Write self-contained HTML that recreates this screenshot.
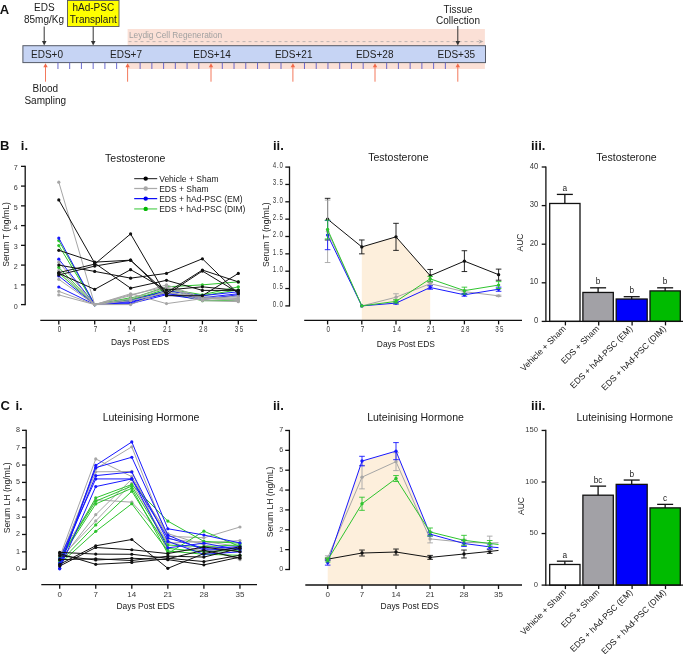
<!DOCTYPE html>
<html><head><meta charset="utf-8"><style>
html,body{margin:0;padding:0;background:#fff;}
body{width:685px;height:654px;overflow:hidden;}
svg{display:block;will-change:transform;}
</style></head><body>
<svg width="685" height="654" viewBox="0 0 685 654">
<rect width="685" height="654" fill="#fff"/>
<text x="-0.3" y="13.6" font-size="13" text-anchor="start" fill="#111" font-weight="bold" font-family='"Liberation Sans", sans-serif' >A</text>
<text x="44.3" y="10.8" font-size="10" text-anchor="middle" fill="#1a1a1a" font-weight="normal" font-family='"Liberation Sans", sans-serif' >EDS</text>
<text x="44.0" y="22.7" font-size="10" text-anchor="middle" fill="#1a1a1a" font-weight="normal" font-family='"Liberation Sans", sans-serif' >85mg/Kg</text>
<line x1="44.2" y1="26.5" x2="44.2" y2="41.3" stroke="#333" stroke-width="1.0" />
<path d="M41.900000000000006,41.0 L46.5,41.0 L44.2,45.5 Z" fill="#333"/>
<rect x="67.5" y="0.5" width="51.5" height="26" fill="#ffff00" stroke="#555" stroke-width="0.9" />
<text x="93.3" y="10.9" font-size="10" text-anchor="middle" fill="#1a1a1a" font-weight="normal" font-family='"Liberation Sans", sans-serif' >hAd-PSC</text>
<text x="93.3" y="22.9" font-size="10" text-anchor="middle" fill="#1a1a1a" font-weight="normal" font-family='"Liberation Sans", sans-serif' >Transplant</text>
<line x1="93.2" y1="26.5" x2="93.2" y2="41.3" stroke="#333" stroke-width="1.0" />
<path d="M90.9,41.0 L95.5,41.0 L93.2,45.5 Z" fill="#333"/>
<rect x="127.6" y="29" width="357.3" height="40" fill="#fbe0d6" stroke="none" stroke-width="1" />
<text x="129.0" y="38.2" font-size="8.3" text-anchor="start" fill="#a0a0a0" font-weight="normal" font-family='"Liberation Sans", sans-serif' >Leydig Cell Regeneration</text>
<line x1="128.5" y1="41.6" x2="479" y2="41.6" stroke="#b8b0ae" stroke-width="0.9" stroke-dasharray="3,3"/>
<path d="M478.5,39.4 L483.5,41.6 L478.5,43.8 L480,41.6 Z" fill="#b0a8a6"/>
<rect x="22.9" y="45.7" width="462.6" height="16.9" fill="#c6d4f4" stroke="#555a66" stroke-width="1.0" />
<text x="47" y="57.8" font-size="10" text-anchor="middle" fill="#222" font-weight="normal" font-family='"Liberation Sans", sans-serif' >EDS+0</text>
<text x="126" y="57.8" font-size="10" text-anchor="middle" fill="#222" font-weight="normal" font-family='"Liberation Sans", sans-serif' >EDS+7</text>
<text x="212" y="57.8" font-size="10" text-anchor="middle" fill="#222" font-weight="normal" font-family='"Liberation Sans", sans-serif' >EDS+14</text>
<text x="293.7" y="57.8" font-size="10" text-anchor="middle" fill="#222" font-weight="normal" font-family='"Liberation Sans", sans-serif' >EDS+21</text>
<text x="374.7" y="57.8" font-size="10" text-anchor="middle" fill="#222" font-weight="normal" font-family='"Liberation Sans", sans-serif' >EDS+28</text>
<text x="456.3" y="57.8" font-size="10" text-anchor="middle" fill="#222" font-weight="normal" font-family='"Liberation Sans", sans-serif' >EDS+35</text>
<line x1="57.940000000000005" y1="62.6" x2="57.940000000000005" y2="69" stroke="#5a5ac8" stroke-width="0.9" />
<line x1="69.68" y1="62.6" x2="69.68" y2="69" stroke="#5a5ac8" stroke-width="0.9" />
<line x1="81.42" y1="62.6" x2="81.42" y2="69" stroke="#5a5ac8" stroke-width="0.9" />
<line x1="93.16" y1="62.6" x2="93.16" y2="69" stroke="#5a5ac8" stroke-width="0.9" />
<line x1="104.9" y1="62.6" x2="104.9" y2="69" stroke="#5a5ac8" stroke-width="0.9" />
<line x1="116.64" y1="62.6" x2="116.64" y2="69" stroke="#5a5ac8" stroke-width="0.9" />
<line x1="140.12" y1="62.6" x2="140.12" y2="69" stroke="#5a5ac8" stroke-width="0.9" />
<line x1="151.86" y1="62.6" x2="151.86" y2="69" stroke="#5a5ac8" stroke-width="0.9" />
<line x1="163.60000000000002" y1="62.6" x2="163.60000000000002" y2="69" stroke="#5a5ac8" stroke-width="0.9" />
<line x1="175.34000000000003" y1="62.6" x2="175.34000000000003" y2="69" stroke="#5a5ac8" stroke-width="0.9" />
<line x1="187.07999999999998" y1="62.6" x2="187.07999999999998" y2="69" stroke="#5a5ac8" stroke-width="0.9" />
<line x1="198.82" y1="62.6" x2="198.82" y2="69" stroke="#5a5ac8" stroke-width="0.9" />
<line x1="222.3" y1="62.6" x2="222.3" y2="69" stroke="#5a5ac8" stroke-width="0.9" />
<line x1="234.04000000000002" y1="62.6" x2="234.04000000000002" y2="69" stroke="#5a5ac8" stroke-width="0.9" />
<line x1="245.78000000000003" y1="62.6" x2="245.78000000000003" y2="69" stroke="#5a5ac8" stroke-width="0.9" />
<line x1="257.52" y1="62.6" x2="257.52" y2="69" stroke="#5a5ac8" stroke-width="0.9" />
<line x1="269.26" y1="62.6" x2="269.26" y2="69" stroke="#5a5ac8" stroke-width="0.9" />
<line x1="281.0" y1="62.6" x2="281.0" y2="69" stroke="#5a5ac8" stroke-width="0.9" />
<line x1="304.48" y1="62.6" x2="304.48" y2="69" stroke="#5a5ac8" stroke-width="0.9" />
<line x1="316.21999999999997" y1="62.6" x2="316.21999999999997" y2="69" stroke="#5a5ac8" stroke-width="0.9" />
<line x1="327.96" y1="62.6" x2="327.96" y2="69" stroke="#5a5ac8" stroke-width="0.9" />
<line x1="339.7" y1="62.6" x2="339.7" y2="69" stroke="#5a5ac8" stroke-width="0.9" />
<line x1="351.44" y1="62.6" x2="351.44" y2="69" stroke="#5a5ac8" stroke-width="0.9" />
<line x1="363.18" y1="62.6" x2="363.18" y2="69" stroke="#5a5ac8" stroke-width="0.9" />
<line x1="386.65999999999997" y1="62.6" x2="386.65999999999997" y2="69" stroke="#5a5ac8" stroke-width="0.9" />
<line x1="398.4" y1="62.6" x2="398.4" y2="69" stroke="#5a5ac8" stroke-width="0.9" />
<line x1="410.14" y1="62.6" x2="410.14" y2="69" stroke="#5a5ac8" stroke-width="0.9" />
<line x1="421.88" y1="62.6" x2="421.88" y2="69" stroke="#5a5ac8" stroke-width="0.9" />
<line x1="433.62" y1="62.6" x2="433.62" y2="69" stroke="#5a5ac8" stroke-width="0.9" />
<line x1="445.36" y1="62.6" x2="445.36" y2="69" stroke="#5a5ac8" stroke-width="0.9" />
<line x1="45.5" y1="81.7" x2="45.5" y2="66.8" stroke="#f26a4a" stroke-width="0.9" />
<path d="M43.3,67.3 L47.7,67.3 L45.5,63.2 Z" fill="#f26a4a"/>
<line x1="127.6" y1="81.7" x2="127.6" y2="66.8" stroke="#f26a4a" stroke-width="0.9" />
<path d="M125.39999999999999,67.3 L129.79999999999998,67.3 L127.6,63.2 Z" fill="#f26a4a"/>
<line x1="211" y1="81.7" x2="211" y2="66.8" stroke="#f26a4a" stroke-width="0.9" />
<path d="M208.8,67.3 L213.2,67.3 L211,63.2 Z" fill="#f26a4a"/>
<line x1="292.9" y1="81.7" x2="292.9" y2="66.8" stroke="#f26a4a" stroke-width="0.9" />
<path d="M290.7,67.3 L295.09999999999997,67.3 L292.9,63.2 Z" fill="#f26a4a"/>
<line x1="375" y1="81.7" x2="375" y2="66.8" stroke="#f26a4a" stroke-width="0.9" />
<path d="M372.8,67.3 L377.2,67.3 L375,63.2 Z" fill="#f26a4a"/>
<line x1="457.8" y1="81.7" x2="457.8" y2="66.8" stroke="#f26a4a" stroke-width="0.9" />
<path d="M455.6,67.3 L460.0,67.3 L457.8,63.2 Z" fill="#f26a4a"/>
<text x="45.3" y="91.9" font-size="10" text-anchor="middle" fill="#1a1a1a" font-weight="normal" font-family='"Liberation Sans", sans-serif' >Blood</text>
<text x="45.3" y="103.5" font-size="10" text-anchor="middle" fill="#1a1a1a" font-weight="normal" font-family='"Liberation Sans", sans-serif' >Sampling</text>
<text x="458" y="12.7" font-size="10" text-anchor="middle" fill="#1a1a1a" font-weight="normal" font-family='"Liberation Sans", sans-serif' >Tissue</text>
<text x="458" y="24.2" font-size="10" text-anchor="middle" fill="#1a1a1a" font-weight="normal" font-family='"Liberation Sans", sans-serif' >Collection</text>
<line x1="457.8" y1="26" x2="457.8" y2="41.3" stroke="#333" stroke-width="1.0" />
<path d="M455.5,41.0 L460.1,41.0 L457.8,45.5 Z" fill="#333"/>
<text x="0.0" y="150.2" font-size="13" text-anchor="start" fill="#111" font-weight="bold" font-family='"Liberation Sans", sans-serif' >B</text>
<text x="20.8" y="150.2" font-size="13" text-anchor="start" fill="#111" font-weight="bold" font-family='"Liberation Sans", sans-serif' >i.</text>
<text x="273" y="149.5" font-size="13" text-anchor="start" fill="#111" font-weight="bold" font-family='"Liberation Sans", sans-serif' >ii.</text>
<text x="531" y="149.5" font-size="13" text-anchor="start" fill="#111" font-weight="bold" font-family='"Liberation Sans", sans-serif' >iii.</text>
<text x="0.5" y="410.2" font-size="13" text-anchor="start" fill="#111" font-weight="bold" font-family='"Liberation Sans", sans-serif' >C</text>
<text x="15.5" y="410.2" font-size="13" text-anchor="start" fill="#111" font-weight="bold" font-family='"Liberation Sans", sans-serif' >i.</text>
<text x="273" y="410" font-size="13" text-anchor="start" fill="#111" font-weight="bold" font-family='"Liberation Sans", sans-serif' >ii.</text>
<text x="531" y="410" font-size="13" text-anchor="start" fill="#111" font-weight="bold" font-family='"Liberation Sans", sans-serif' >iii.</text>
<text x="135.3" y="161.9" font-size="10.55" text-anchor="middle" fill="#1a1a1a" font-weight="normal" font-family='"Liberation Sans", sans-serif' >Testosterone</text>
<line x1="25.2" y1="165.75000000000003" x2="25.2" y2="305.20000000000005" stroke="#111" stroke-width="1.3" />
<line x1="21.0" y1="304.6" x2="25.2" y2="304.6" stroke="#111" stroke-width="1.3" />
<text transform="translate(17.80,308.50) scale(0.9,1)" font-size="8.0" text-anchor="end" fill="#383838" font-family='"Liberation Sans", sans-serif' letter-spacing="0.0">0</text>
<line x1="21.0" y1="284.85" x2="25.2" y2="284.85" stroke="#111" stroke-width="1.3" />
<text transform="translate(17.80,288.75) scale(0.9,1)" font-size="8.0" text-anchor="end" fill="#383838" font-family='"Liberation Sans", sans-serif' letter-spacing="0.0">1</text>
<line x1="21.0" y1="265.1" x2="25.2" y2="265.1" stroke="#111" stroke-width="1.3" />
<text transform="translate(17.80,269.00) scale(0.9,1)" font-size="8.0" text-anchor="end" fill="#383838" font-family='"Liberation Sans", sans-serif' letter-spacing="0.0">2</text>
<line x1="21.0" y1="245.35000000000002" x2="25.2" y2="245.35000000000002" stroke="#111" stroke-width="1.3" />
<text transform="translate(17.80,249.25) scale(0.9,1)" font-size="8.0" text-anchor="end" fill="#383838" font-family='"Liberation Sans", sans-serif' letter-spacing="0.0">3</text>
<line x1="21.0" y1="225.60000000000002" x2="25.2" y2="225.60000000000002" stroke="#111" stroke-width="1.3" />
<text transform="translate(17.80,229.50) scale(0.9,1)" font-size="8.0" text-anchor="end" fill="#383838" font-family='"Liberation Sans", sans-serif' letter-spacing="0.0">4</text>
<line x1="21.0" y1="205.85000000000002" x2="25.2" y2="205.85000000000002" stroke="#111" stroke-width="1.3" />
<text transform="translate(17.80,209.75) scale(0.9,1)" font-size="8.0" text-anchor="end" fill="#383838" font-family='"Liberation Sans", sans-serif' letter-spacing="0.0">5</text>
<line x1="21.0" y1="186.10000000000002" x2="25.2" y2="186.10000000000002" stroke="#111" stroke-width="1.3" />
<text transform="translate(17.80,190.00) scale(0.9,1)" font-size="8.0" text-anchor="end" fill="#383838" font-family='"Liberation Sans", sans-serif' letter-spacing="0.0">6</text>
<line x1="21.0" y1="166.35000000000002" x2="25.2" y2="166.35000000000002" stroke="#111" stroke-width="1.3" />
<text transform="translate(17.80,170.25) scale(0.9,1)" font-size="8.0" text-anchor="end" fill="#383838" font-family='"Liberation Sans", sans-serif' letter-spacing="0.0">7</text>
<line x1="40.3" y1="320.4" x2="257" y2="320.4" stroke="#111" stroke-width="1.3" />
<line x1="58.8" y1="320.4" x2="58.8" y2="324.4" stroke="#111" stroke-width="1.3" />
<text transform="translate(60.30,332.00) scale(0.74,1)" font-size="8.5" text-anchor="middle" fill="#383838" font-family='"Liberation Sans", sans-serif' letter-spacing="2.0">0</text>
<line x1="94.69999999999999" y1="320.4" x2="94.69999999999999" y2="324.4" stroke="#111" stroke-width="1.3" />
<text transform="translate(96.20,332.00) scale(0.74,1)" font-size="8.5" text-anchor="middle" fill="#383838" font-family='"Liberation Sans", sans-serif' letter-spacing="2.0">7</text>
<line x1="130.6" y1="320.4" x2="130.6" y2="324.4" stroke="#111" stroke-width="1.3" />
<text transform="translate(132.10,332.00) scale(0.74,1)" font-size="8.5" text-anchor="middle" fill="#383838" font-family='"Liberation Sans", sans-serif' letter-spacing="2.0">14</text>
<line x1="166.5" y1="320.4" x2="166.5" y2="324.4" stroke="#111" stroke-width="1.3" />
<text transform="translate(168.00,332.00) scale(0.74,1)" font-size="8.5" text-anchor="middle" fill="#383838" font-family='"Liberation Sans", sans-serif' letter-spacing="2.0">21</text>
<line x1="202.39999999999998" y1="320.4" x2="202.39999999999998" y2="324.4" stroke="#111" stroke-width="1.3" />
<text transform="translate(203.90,332.00) scale(0.74,1)" font-size="8.5" text-anchor="middle" fill="#383838" font-family='"Liberation Sans", sans-serif' letter-spacing="2.0">28</text>
<line x1="238.3" y1="320.4" x2="238.3" y2="324.4" stroke="#111" stroke-width="1.3" />
<text transform="translate(239.80,332.00) scale(0.74,1)" font-size="8.5" text-anchor="middle" fill="#383838" font-family='"Liberation Sans", sans-serif' letter-spacing="2.0">35</text>
<text x="140" y="344.6" font-size="8.45" text-anchor="middle" fill="#1a1a1a" font-weight="normal" font-family='"Liberation Sans", sans-serif' >Days Post EDS</text>
<text transform="translate(8.8,234.5) rotate(-90)" font-size="8.6" text-anchor="middle" fill="#1a1a1a" font-family='"Liberation Sans", sans-serif'>Serum T (ng/mL)</text>
<polyline points="58.80,240.61 94.70,304.60 130.60,298.68 166.50,286.83 202.40,284.85 238.30,281.89" fill="none" stroke="#2ec42e" stroke-width="1.0" stroke-linejoin="round"/>
<polyline points="58.80,245.55 94.70,304.60 130.60,300.65 166.50,288.80 202.40,294.73 238.30,286.83" fill="none" stroke="#2ec42e" stroke-width="1.0" stroke-linejoin="round"/>
<polyline points="58.80,267.47 94.70,304.60 130.60,299.66 166.50,290.78 202.40,295.71 238.30,289.79" fill="none" stroke="#2ec42e" stroke-width="1.0" stroke-linejoin="round"/>
<polyline points="58.80,273.00 94.70,304.60 130.60,297.69 166.50,292.75 202.40,300.65 238.30,300.65" fill="none" stroke="#2ec42e" stroke-width="1.0" stroke-linejoin="round"/>
<circle cx="58.80" cy="240.61" r="1.6" fill="#2ec42e"/>
<circle cx="94.70" cy="304.60" r="1.6" fill="#2ec42e"/>
<circle cx="130.60" cy="298.68" r="1.6" fill="#2ec42e"/>
<circle cx="166.50" cy="286.83" r="1.6" fill="#2ec42e"/>
<circle cx="202.40" cy="284.85" r="1.6" fill="#2ec42e"/>
<circle cx="238.30" cy="281.89" r="1.6" fill="#2ec42e"/>
<circle cx="58.80" cy="245.55" r="1.6" fill="#2ec42e"/>
<circle cx="94.70" cy="304.60" r="1.6" fill="#2ec42e"/>
<circle cx="130.60" cy="300.65" r="1.6" fill="#2ec42e"/>
<circle cx="166.50" cy="288.80" r="1.6" fill="#2ec42e"/>
<circle cx="202.40" cy="294.73" r="1.6" fill="#2ec42e"/>
<circle cx="238.30" cy="286.83" r="1.6" fill="#2ec42e"/>
<circle cx="58.80" cy="267.47" r="1.6" fill="#2ec42e"/>
<circle cx="94.70" cy="304.60" r="1.6" fill="#2ec42e"/>
<circle cx="130.60" cy="299.66" r="1.6" fill="#2ec42e"/>
<circle cx="166.50" cy="290.78" r="1.6" fill="#2ec42e"/>
<circle cx="202.40" cy="295.71" r="1.6" fill="#2ec42e"/>
<circle cx="238.30" cy="289.79" r="1.6" fill="#2ec42e"/>
<circle cx="58.80" cy="273.00" r="1.6" fill="#2ec42e"/>
<circle cx="94.70" cy="304.60" r="1.6" fill="#2ec42e"/>
<circle cx="130.60" cy="297.69" r="1.6" fill="#2ec42e"/>
<circle cx="166.50" cy="292.75" r="1.6" fill="#2ec42e"/>
<circle cx="202.40" cy="300.65" r="1.6" fill="#2ec42e"/>
<circle cx="238.30" cy="300.65" r="1.6" fill="#2ec42e"/>
<polyline points="58.80,238.04 94.70,304.60 130.60,300.65 166.50,290.78 202.40,295.71 238.30,291.76" fill="none" stroke="#1818ff" stroke-width="1.0" stroke-linejoin="round"/>
<polyline points="58.80,259.18 94.70,304.60 130.60,301.64 166.50,293.74 202.40,297.69 238.30,293.74" fill="none" stroke="#1818ff" stroke-width="1.0" stroke-linejoin="round"/>
<polyline points="58.80,275.96 94.70,304.60 130.60,302.62 166.50,292.75 202.40,298.68 238.30,295.71" fill="none" stroke="#1818ff" stroke-width="1.0" stroke-linejoin="round"/>
<polyline points="58.80,287.02 94.70,304.60 130.60,303.61 166.50,294.73 202.40,299.66 238.30,294.73" fill="none" stroke="#1818ff" stroke-width="1.0" stroke-linejoin="round"/>
<circle cx="58.80" cy="238.04" r="1.6" fill="#1818ff"/>
<circle cx="94.70" cy="304.60" r="1.6" fill="#1818ff"/>
<circle cx="130.60" cy="300.65" r="1.6" fill="#1818ff"/>
<circle cx="166.50" cy="290.78" r="1.6" fill="#1818ff"/>
<circle cx="202.40" cy="295.71" r="1.6" fill="#1818ff"/>
<circle cx="238.30" cy="291.76" r="1.6" fill="#1818ff"/>
<circle cx="58.80" cy="259.18" r="1.6" fill="#1818ff"/>
<circle cx="94.70" cy="304.60" r="1.6" fill="#1818ff"/>
<circle cx="130.60" cy="301.64" r="1.6" fill="#1818ff"/>
<circle cx="166.50" cy="293.74" r="1.6" fill="#1818ff"/>
<circle cx="202.40" cy="297.69" r="1.6" fill="#1818ff"/>
<circle cx="238.30" cy="293.74" r="1.6" fill="#1818ff"/>
<circle cx="58.80" cy="275.96" r="1.6" fill="#1818ff"/>
<circle cx="94.70" cy="304.60" r="1.6" fill="#1818ff"/>
<circle cx="130.60" cy="302.62" r="1.6" fill="#1818ff"/>
<circle cx="166.50" cy="292.75" r="1.6" fill="#1818ff"/>
<circle cx="202.40" cy="298.68" r="1.6" fill="#1818ff"/>
<circle cx="238.30" cy="295.71" r="1.6" fill="#1818ff"/>
<circle cx="58.80" cy="287.02" r="1.6" fill="#1818ff"/>
<circle cx="94.70" cy="304.60" r="1.6" fill="#1818ff"/>
<circle cx="130.60" cy="303.61" r="1.6" fill="#1818ff"/>
<circle cx="166.50" cy="294.73" r="1.6" fill="#1818ff"/>
<circle cx="202.40" cy="299.66" r="1.6" fill="#1818ff"/>
<circle cx="238.30" cy="294.73" r="1.6" fill="#1818ff"/>
<polyline points="58.80,182.15 94.70,304.60 130.60,293.74 166.50,303.61 202.40,298.68 238.30,299.66" fill="none" stroke="#a6a6a6" stroke-width="1.0" stroke-linejoin="round"/>
<polyline points="58.80,262.14 94.70,304.60 130.60,295.71 166.50,284.85 202.40,297.69 238.30,300.65" fill="none" stroke="#a6a6a6" stroke-width="1.0" stroke-linejoin="round"/>
<polyline points="58.80,270.43 94.70,304.60 130.60,298.68 166.50,287.81 202.40,299.66 238.30,295.71" fill="none" stroke="#a6a6a6" stroke-width="1.0" stroke-linejoin="round"/>
<polyline points="58.80,279.32 94.70,304.60 130.60,304.60 166.50,290.78 202.40,300.65 238.30,301.64" fill="none" stroke="#a6a6a6" stroke-width="1.0" stroke-linejoin="round"/>
<polyline points="58.80,291.37 94.70,304.60 130.60,300.65 166.50,292.75 202.40,296.70 238.30,298.68" fill="none" stroke="#a6a6a6" stroke-width="1.0" stroke-linejoin="round"/>
<polyline points="58.80,294.92 94.70,304.60 130.60,294.73 166.50,286.83 202.40,298.68 238.30,297.69" fill="none" stroke="#a6a6a6" stroke-width="1.0" stroke-linejoin="round"/>
<circle cx="58.80" cy="182.15" r="1.6" fill="#a6a6a6"/>
<circle cx="94.70" cy="304.60" r="1.6" fill="#a6a6a6"/>
<circle cx="130.60" cy="293.74" r="1.6" fill="#a6a6a6"/>
<circle cx="166.50" cy="303.61" r="1.6" fill="#a6a6a6"/>
<circle cx="202.40" cy="298.68" r="1.6" fill="#a6a6a6"/>
<circle cx="238.30" cy="299.66" r="1.6" fill="#a6a6a6"/>
<circle cx="58.80" cy="262.14" r="1.6" fill="#a6a6a6"/>
<circle cx="94.70" cy="304.60" r="1.6" fill="#a6a6a6"/>
<circle cx="130.60" cy="295.71" r="1.6" fill="#a6a6a6"/>
<circle cx="166.50" cy="284.85" r="1.6" fill="#a6a6a6"/>
<circle cx="202.40" cy="297.69" r="1.6" fill="#a6a6a6"/>
<circle cx="238.30" cy="300.65" r="1.6" fill="#a6a6a6"/>
<circle cx="58.80" cy="270.43" r="1.6" fill="#a6a6a6"/>
<circle cx="94.70" cy="304.60" r="1.6" fill="#a6a6a6"/>
<circle cx="130.60" cy="298.68" r="1.6" fill="#a6a6a6"/>
<circle cx="166.50" cy="287.81" r="1.6" fill="#a6a6a6"/>
<circle cx="202.40" cy="299.66" r="1.6" fill="#a6a6a6"/>
<circle cx="238.30" cy="295.71" r="1.6" fill="#a6a6a6"/>
<circle cx="58.80" cy="279.32" r="1.6" fill="#a6a6a6"/>
<circle cx="94.70" cy="304.60" r="1.6" fill="#a6a6a6"/>
<circle cx="130.60" cy="304.60" r="1.6" fill="#a6a6a6"/>
<circle cx="166.50" cy="290.78" r="1.6" fill="#a6a6a6"/>
<circle cx="202.40" cy="300.65" r="1.6" fill="#a6a6a6"/>
<circle cx="238.30" cy="301.64" r="1.6" fill="#a6a6a6"/>
<circle cx="58.80" cy="291.37" r="1.6" fill="#a6a6a6"/>
<circle cx="94.70" cy="304.60" r="1.6" fill="#a6a6a6"/>
<circle cx="130.60" cy="300.65" r="1.6" fill="#a6a6a6"/>
<circle cx="166.50" cy="292.75" r="1.6" fill="#a6a6a6"/>
<circle cx="202.40" cy="296.70" r="1.6" fill="#a6a6a6"/>
<circle cx="238.30" cy="298.68" r="1.6" fill="#a6a6a6"/>
<circle cx="58.80" cy="294.92" r="1.6" fill="#a6a6a6"/>
<circle cx="94.70" cy="304.60" r="1.6" fill="#a6a6a6"/>
<circle cx="130.60" cy="294.73" r="1.6" fill="#a6a6a6"/>
<circle cx="166.50" cy="286.83" r="1.6" fill="#a6a6a6"/>
<circle cx="202.40" cy="298.68" r="1.6" fill="#a6a6a6"/>
<circle cx="238.30" cy="297.69" r="1.6" fill="#a6a6a6"/>
<polyline points="58.80,199.93 94.70,263.12 130.60,288.21 166.50,280.31 202.40,290.38 238.30,290.38" fill="none" stroke="#111111" stroke-width="1.0" stroke-linejoin="round"/>
<polyline points="58.80,250.29 94.70,262.14 130.60,260.16 166.50,292.75 202.40,270.04 238.30,281.89" fill="none" stroke="#111111" stroke-width="1.0" stroke-linejoin="round"/>
<polyline points="58.80,274.98 94.70,266.09 130.60,260.16 166.50,294.73 202.40,271.03 238.30,292.75" fill="none" stroke="#111111" stroke-width="1.0" stroke-linejoin="round"/>
<polyline points="58.80,272.61 94.70,264.11 130.60,233.90 166.50,295.71 202.40,295.71 238.30,273.40" fill="none" stroke="#111111" stroke-width="1.0" stroke-linejoin="round"/>
<polyline points="58.80,265.10 94.70,271.42 130.60,278.14 166.50,273.40 202.40,258.78 238.30,293.74" fill="none" stroke="#111111" stroke-width="1.0" stroke-linejoin="round"/>
<polyline points="58.80,273.40 94.70,289.39 130.60,269.64 166.50,289.99 202.40,286.83 238.30,290.38" fill="none" stroke="#111111" stroke-width="1.0" stroke-linejoin="round"/>
<circle cx="58.80" cy="199.93" r="1.6" fill="#111111"/>
<circle cx="94.70" cy="263.12" r="1.6" fill="#111111"/>
<circle cx="130.60" cy="288.21" r="1.6" fill="#111111"/>
<circle cx="166.50" cy="280.31" r="1.6" fill="#111111"/>
<circle cx="202.40" cy="290.38" r="1.6" fill="#111111"/>
<circle cx="238.30" cy="290.38" r="1.6" fill="#111111"/>
<circle cx="58.80" cy="250.29" r="1.6" fill="#111111"/>
<circle cx="94.70" cy="262.14" r="1.6" fill="#111111"/>
<circle cx="130.60" cy="260.16" r="1.6" fill="#111111"/>
<circle cx="166.50" cy="292.75" r="1.6" fill="#111111"/>
<circle cx="202.40" cy="270.04" r="1.6" fill="#111111"/>
<circle cx="238.30" cy="281.89" r="1.6" fill="#111111"/>
<circle cx="58.80" cy="274.98" r="1.6" fill="#111111"/>
<circle cx="94.70" cy="266.09" r="1.6" fill="#111111"/>
<circle cx="130.60" cy="260.16" r="1.6" fill="#111111"/>
<circle cx="166.50" cy="294.73" r="1.6" fill="#111111"/>
<circle cx="202.40" cy="271.03" r="1.6" fill="#111111"/>
<circle cx="238.30" cy="292.75" r="1.6" fill="#111111"/>
<circle cx="58.80" cy="272.61" r="1.6" fill="#111111"/>
<circle cx="94.70" cy="264.11" r="1.6" fill="#111111"/>
<circle cx="130.60" cy="233.90" r="1.6" fill="#111111"/>
<circle cx="166.50" cy="295.71" r="1.6" fill="#111111"/>
<circle cx="202.40" cy="295.71" r="1.6" fill="#111111"/>
<circle cx="238.30" cy="273.40" r="1.6" fill="#111111"/>
<circle cx="58.80" cy="265.10" r="1.6" fill="#111111"/>
<circle cx="94.70" cy="271.42" r="1.6" fill="#111111"/>
<circle cx="130.60" cy="278.14" r="1.6" fill="#111111"/>
<circle cx="166.50" cy="273.40" r="1.6" fill="#111111"/>
<circle cx="202.40" cy="258.78" r="1.6" fill="#111111"/>
<circle cx="238.30" cy="293.74" r="1.6" fill="#111111"/>
<circle cx="58.80" cy="273.40" r="1.6" fill="#111111"/>
<circle cx="94.70" cy="289.39" r="1.6" fill="#111111"/>
<circle cx="130.60" cy="269.64" r="1.6" fill="#111111"/>
<circle cx="166.50" cy="289.99" r="1.6" fill="#111111"/>
<circle cx="202.40" cy="286.83" r="1.6" fill="#111111"/>
<circle cx="238.30" cy="290.38" r="1.6" fill="#111111"/>
<line x1="134.2" y1="178.6" x2="157.2" y2="178.6" stroke="#404040" stroke-width="1.25" />
<circle cx="145.70" cy="178.60" r="2.2" fill="#000"/>
<text x="159.2" y="181.6" font-size="8.5" text-anchor="start" fill="#1a1a1a" font-weight="normal" font-family='"Liberation Sans", sans-serif' >Vehicle + Sham</text>
<line x1="134.2" y1="188.5" x2="157.2" y2="188.5" stroke="#aaaaaa" stroke-width="1.25" />
<circle cx="145.70" cy="188.50" r="2.2" fill="#a8a8a8"/>
<text x="159.2" y="191.7" font-size="8.5" text-anchor="start" fill="#1a1a1a" font-weight="normal" font-family='"Liberation Sans", sans-serif' >EDS + Sham</text>
<line x1="134.2" y1="198.6" x2="157.2" y2="198.6" stroke="#1010f8" stroke-width="1.25" />
<circle cx="145.70" cy="198.60" r="2.2" fill="#0000ee"/>
<text x="159.2" y="201.8" font-size="8.5" text-anchor="start" fill="#1a1a1a" font-weight="normal" font-family='"Liberation Sans", sans-serif' >EDS + hAd-PSC (EM)</text>
<line x1="134.2" y1="208.9" x2="157.2" y2="208.9" stroke="#80dc80" stroke-width="1.6" />
<circle cx="145.70" cy="208.90" r="2.2" fill="#00b800"/>
<text x="159.2" y="212.1" font-size="8.5" text-anchor="start" fill="#1a1a1a" font-weight="normal" font-family='"Liberation Sans", sans-serif' >EDS + hAd-PSC (DIM)</text>
<text x="398.4" y="161.4" font-size="10.55" text-anchor="middle" fill="#1a1a1a" font-weight="normal" font-family='"Liberation Sans", sans-serif' >Testosterone</text>
<polygon points="361.80,320.40 361.80,246.91 396.00,236.85 430.20,275.71 430.20,320.40" fill="#fdefdc"/>
<line x1="289.5" y1="166.49999999999997" x2="289.5" y2="306.5" stroke="#111" stroke-width="1.3" />
<line x1="285.3" y1="305.9" x2="289.5" y2="305.9" stroke="#111" stroke-width="1.3" />
<text transform="translate(283.70,306.80) scale(0.72,1)" font-size="8.5" text-anchor="end" fill="#383838" font-family='"Liberation Sans", sans-serif' letter-spacing="1.1">0.0</text>
<line x1="285.3" y1="288.54999999999995" x2="289.5" y2="288.54999999999995" stroke="#111" stroke-width="1.3" />
<text transform="translate(283.70,289.45) scale(0.72,1)" font-size="8.5" text-anchor="end" fill="#383838" font-family='"Liberation Sans", sans-serif' letter-spacing="1.1">0.5</text>
<line x1="285.3" y1="271.2" x2="289.5" y2="271.2" stroke="#111" stroke-width="1.3" />
<text transform="translate(283.70,272.10) scale(0.72,1)" font-size="8.5" text-anchor="end" fill="#383838" font-family='"Liberation Sans", sans-serif' letter-spacing="1.1">1.0</text>
<line x1="285.3" y1="253.84999999999997" x2="289.5" y2="253.84999999999997" stroke="#111" stroke-width="1.3" />
<text transform="translate(283.70,254.75) scale(0.72,1)" font-size="8.5" text-anchor="end" fill="#383838" font-family='"Liberation Sans", sans-serif' letter-spacing="1.1">1.5</text>
<line x1="285.3" y1="236.49999999999997" x2="289.5" y2="236.49999999999997" stroke="#111" stroke-width="1.3" />
<text transform="translate(283.70,237.40) scale(0.72,1)" font-size="8.5" text-anchor="end" fill="#383838" font-family='"Liberation Sans", sans-serif' letter-spacing="1.1">2.0</text>
<line x1="285.3" y1="219.14999999999998" x2="289.5" y2="219.14999999999998" stroke="#111" stroke-width="1.3" />
<text transform="translate(283.70,220.05) scale(0.72,1)" font-size="8.5" text-anchor="end" fill="#383838" font-family='"Liberation Sans", sans-serif' letter-spacing="1.1">2.5</text>
<line x1="285.3" y1="201.79999999999995" x2="289.5" y2="201.79999999999995" stroke="#111" stroke-width="1.3" />
<text transform="translate(283.70,202.70) scale(0.72,1)" font-size="8.5" text-anchor="end" fill="#383838" font-family='"Liberation Sans", sans-serif' letter-spacing="1.1">3.0</text>
<line x1="285.3" y1="184.44999999999996" x2="289.5" y2="184.44999999999996" stroke="#111" stroke-width="1.3" />
<text transform="translate(283.70,185.35) scale(0.72,1)" font-size="8.5" text-anchor="end" fill="#383838" font-family='"Liberation Sans", sans-serif' letter-spacing="1.1">3.5</text>
<line x1="285.3" y1="167.09999999999997" x2="289.5" y2="167.09999999999997" stroke="#111" stroke-width="1.3" />
<text transform="translate(283.70,168.00) scale(0.72,1)" font-size="8.5" text-anchor="end" fill="#383838" font-family='"Liberation Sans", sans-serif' letter-spacing="1.1">4.0</text>
<line x1="304.2" y1="320.4" x2="522" y2="320.4" stroke="#111" stroke-width="1.3" />
<line x1="327.6" y1="320.4" x2="327.6" y2="324.4" stroke="#111" stroke-width="1.3" />
<text transform="translate(329.10,332.00) scale(0.74,1)" font-size="8.5" text-anchor="middle" fill="#383838" font-family='"Liberation Sans", sans-serif' letter-spacing="2.0">0</text>
<line x1="361.8" y1="320.4" x2="361.8" y2="324.4" stroke="#111" stroke-width="1.3" />
<text transform="translate(363.30,332.00) scale(0.74,1)" font-size="8.5" text-anchor="middle" fill="#383838" font-family='"Liberation Sans", sans-serif' letter-spacing="2.0">7</text>
<line x1="396.0" y1="320.4" x2="396.0" y2="324.4" stroke="#111" stroke-width="1.3" />
<text transform="translate(397.50,332.00) scale(0.74,1)" font-size="8.5" text-anchor="middle" fill="#383838" font-family='"Liberation Sans", sans-serif' letter-spacing="2.0">14</text>
<line x1="430.20000000000005" y1="320.4" x2="430.20000000000005" y2="324.4" stroke="#111" stroke-width="1.3" />
<text transform="translate(431.70,332.00) scale(0.74,1)" font-size="8.5" text-anchor="middle" fill="#383838" font-family='"Liberation Sans", sans-serif' letter-spacing="2.0">21</text>
<line x1="464.40000000000003" y1="320.4" x2="464.40000000000003" y2="324.4" stroke="#111" stroke-width="1.3" />
<text transform="translate(465.90,332.00) scale(0.74,1)" font-size="8.5" text-anchor="middle" fill="#383838" font-family='"Liberation Sans", sans-serif' letter-spacing="2.0">28</text>
<line x1="498.6" y1="320.4" x2="498.6" y2="324.4" stroke="#111" stroke-width="1.3" />
<text transform="translate(500.10,332.00) scale(0.74,1)" font-size="8.5" text-anchor="middle" fill="#383838" font-family='"Liberation Sans", sans-serif' letter-spacing="2.0">35</text>
<text x="405.9" y="346.5" font-size="8.45" text-anchor="middle" fill="#1a1a1a" font-weight="normal" font-family='"Liberation Sans", sans-serif' >Days Post EDS</text>
<text transform="translate(269.2,234.7) rotate(-90)" font-size="8.6" text-anchor="middle" fill="#1a1a1a" font-family='"Liberation Sans", sans-serif'>Serum T (ng/mL)</text>
<polyline points="327.60,219.15 361.80,246.91 396.00,236.85 430.20,275.71 464.40,261.14 498.60,274.67" fill="none" stroke="#111111" stroke-width="1.0" stroke-linejoin="round"/>
<line x1="327.6" y1="198.32999999999998" x2="327.6" y2="239.96999999999997" stroke="#111111" stroke-width="0.9" />
<line x1="324.8" y1="198.32999999999998" x2="330.40000000000003" y2="198.32999999999998" stroke="#111111" stroke-width="0.9" />
<line x1="324.8" y1="239.96999999999997" x2="330.40000000000003" y2="239.96999999999997" stroke="#111111" stroke-width="0.9" />
<circle cx="327.60" cy="219.15" r="1.7" fill="#111111"/>
<line x1="361.8" y1="239.96999999999997" x2="361.8" y2="253.84999999999997" stroke="#111111" stroke-width="0.9" />
<line x1="359.0" y1="239.96999999999997" x2="364.6" y2="239.96999999999997" stroke="#111111" stroke-width="0.9" />
<line x1="359.0" y1="253.84999999999997" x2="364.6" y2="253.84999999999997" stroke="#111111" stroke-width="0.9" />
<circle cx="361.80" cy="246.91" r="1.7" fill="#111111"/>
<line x1="396.0" y1="223.31399999999996" x2="396.0" y2="250.37999999999997" stroke="#111111" stroke-width="0.9" />
<line x1="393.2" y1="223.31399999999996" x2="398.8" y2="223.31399999999996" stroke="#111111" stroke-width="0.9" />
<line x1="393.2" y1="250.37999999999997" x2="398.8" y2="250.37999999999997" stroke="#111111" stroke-width="0.9" />
<circle cx="396.00" cy="236.85" r="1.7" fill="#111111"/>
<line x1="430.20000000000005" y1="269.465" x2="430.20000000000005" y2="281.957" stroke="#111111" stroke-width="0.9" />
<line x1="427.40000000000003" y1="269.465" x2="433.00000000000006" y2="269.465" stroke="#111111" stroke-width="0.9" />
<line x1="427.40000000000003" y1="281.957" x2="433.00000000000006" y2="281.957" stroke="#111111" stroke-width="0.9" />
<circle cx="430.20" cy="275.71" r="1.7" fill="#111111"/>
<line x1="464.40000000000003" y1="250.72699999999998" x2="464.40000000000003" y2="271.54699999999997" stroke="#111111" stroke-width="0.9" />
<line x1="461.6" y1="250.72699999999998" x2="467.20000000000005" y2="250.72699999999998" stroke="#111111" stroke-width="0.9" />
<line x1="461.6" y1="271.54699999999997" x2="467.20000000000005" y2="271.54699999999997" stroke="#111111" stroke-width="0.9" />
<circle cx="464.40" cy="261.14" r="1.7" fill="#111111"/>
<line x1="498.6" y1="269.118" x2="498.6" y2="280.222" stroke="#111111" stroke-width="0.9" />
<line x1="495.8" y1="269.118" x2="501.40000000000003" y2="269.118" stroke="#111111" stroke-width="0.9" />
<line x1="495.8" y1="280.222" x2="501.40000000000003" y2="280.222" stroke="#111111" stroke-width="0.9" />
<circle cx="498.60" cy="274.67" r="1.7" fill="#111111"/>
<polyline points="327.60,231.29 361.80,305.90 396.00,297.22 430.20,283.69 464.40,291.67 498.60,295.84" fill="none" stroke="#a6a6a6" stroke-width="1.0" stroke-linejoin="round"/>
<line x1="327.6" y1="200.06499999999997" x2="327.6" y2="262.525" stroke="#a6a6a6" stroke-width="0.9" />
<line x1="324.8" y1="200.06499999999997" x2="330.40000000000003" y2="200.06499999999997" stroke="#a6a6a6" stroke-width="0.9" />
<line x1="324.8" y1="262.525" x2="330.40000000000003" y2="262.525" stroke="#a6a6a6" stroke-width="0.9" />
<circle cx="327.60" cy="231.29" r="1.7" fill="#a6a6a6"/>
<circle cx="361.80" cy="305.90" r="1.7" fill="#a6a6a6"/>
<line x1="396.0" y1="293.755" x2="396.0" y2="300.695" stroke="#a6a6a6" stroke-width="0.9" />
<line x1="393.2" y1="293.755" x2="398.8" y2="293.755" stroke="#a6a6a6" stroke-width="0.9" />
<line x1="393.2" y1="300.695" x2="398.8" y2="300.695" stroke="#a6a6a6" stroke-width="0.9" />
<circle cx="396.00" cy="297.22" r="1.7" fill="#a6a6a6"/>
<line x1="430.20000000000005" y1="281.60999999999996" x2="430.20000000000005" y2="285.774" stroke="#a6a6a6" stroke-width="0.9" />
<line x1="427.40000000000003" y1="281.60999999999996" x2="433.00000000000006" y2="281.60999999999996" stroke="#a6a6a6" stroke-width="0.9" />
<line x1="427.40000000000003" y1="285.774" x2="433.00000000000006" y2="285.774" stroke="#a6a6a6" stroke-width="0.9" />
<circle cx="430.20" cy="283.69" r="1.7" fill="#a6a6a6"/>
<line x1="464.40000000000003" y1="289.938" x2="464.40000000000003" y2="293.40799999999996" stroke="#a6a6a6" stroke-width="0.9" />
<line x1="461.6" y1="289.938" x2="467.20000000000005" y2="289.938" stroke="#a6a6a6" stroke-width="0.9" />
<line x1="461.6" y1="293.40799999999996" x2="467.20000000000005" y2="293.40799999999996" stroke="#a6a6a6" stroke-width="0.9" />
<circle cx="464.40" cy="291.67" r="1.7" fill="#a6a6a6"/>
<line x1="498.6" y1="295.143" x2="498.6" y2="296.53099999999995" stroke="#a6a6a6" stroke-width="0.9" />
<line x1="495.8" y1="295.143" x2="501.40000000000003" y2="295.143" stroke="#a6a6a6" stroke-width="0.9" />
<line x1="495.8" y1="296.53099999999995" x2="501.40000000000003" y2="296.53099999999995" stroke="#a6a6a6" stroke-width="0.9" />
<circle cx="498.60" cy="295.84" r="1.7" fill="#a6a6a6"/>
<polyline points="327.60,235.11 361.80,305.90 396.00,303.12 430.20,287.51 464.40,294.80 498.60,289.24" fill="none" stroke="#1818ff" stroke-width="1.0" stroke-linejoin="round"/>
<line x1="327.6" y1="220.53799999999995" x2="327.6" y2="249.68599999999998" stroke="#1818ff" stroke-width="0.9" />
<line x1="324.8" y1="220.53799999999995" x2="330.40000000000003" y2="220.53799999999995" stroke="#1818ff" stroke-width="0.9" />
<line x1="324.8" y1="249.68599999999998" x2="330.40000000000003" y2="249.68599999999998" stroke="#1818ff" stroke-width="0.9" />
<circle cx="327.60" cy="235.11" r="1.7" fill="#1818ff"/>
<circle cx="361.80" cy="305.90" r="1.7" fill="#1818ff"/>
<line x1="396.0" y1="302.08299999999997" x2="396.0" y2="304.16499999999996" stroke="#1818ff" stroke-width="0.9" />
<line x1="393.2" y1="302.08299999999997" x2="398.8" y2="302.08299999999997" stroke="#1818ff" stroke-width="0.9" />
<line x1="393.2" y1="304.16499999999996" x2="398.8" y2="304.16499999999996" stroke="#1818ff" stroke-width="0.9" />
<circle cx="396.00" cy="303.12" r="1.7" fill="#1818ff"/>
<line x1="430.20000000000005" y1="285.774" x2="430.20000000000005" y2="289.24399999999997" stroke="#1818ff" stroke-width="0.9" />
<line x1="427.40000000000003" y1="285.774" x2="433.00000000000006" y2="285.774" stroke="#1818ff" stroke-width="0.9" />
<line x1="427.40000000000003" y1="289.24399999999997" x2="433.00000000000006" y2="289.24399999999997" stroke="#1818ff" stroke-width="0.9" />
<circle cx="430.20" cy="287.51" r="1.7" fill="#1818ff"/>
<line x1="464.40000000000003" y1="293.40799999999996" x2="464.40000000000003" y2="296.18399999999997" stroke="#1818ff" stroke-width="0.9" />
<line x1="461.6" y1="293.40799999999996" x2="467.20000000000005" y2="293.40799999999996" stroke="#1818ff" stroke-width="0.9" />
<line x1="461.6" y1="296.18399999999997" x2="467.20000000000005" y2="296.18399999999997" stroke="#1818ff" stroke-width="0.9" />
<circle cx="464.40" cy="294.80" r="1.7" fill="#1818ff"/>
<line x1="498.6" y1="287.162" x2="498.6" y2="291.32599999999996" stroke="#1818ff" stroke-width="0.9" />
<line x1="495.8" y1="287.162" x2="501.40000000000003" y2="287.162" stroke="#1818ff" stroke-width="0.9" />
<line x1="495.8" y1="291.32599999999996" x2="501.40000000000003" y2="291.32599999999996" stroke="#1818ff" stroke-width="0.9" />
<circle cx="498.60" cy="289.24" r="1.7" fill="#1818ff"/>
<polyline points="327.60,229.56 361.80,305.90 396.00,301.39 430.20,278.83 464.40,290.63 498.60,285.08" fill="none" stroke="#2ec42e" stroke-width="1.0" stroke-linejoin="round"/>
<line x1="327.6" y1="220.19099999999997" x2="327.6" y2="238.92899999999997" stroke="#2ec42e" stroke-width="0.9" />
<line x1="324.8" y1="220.19099999999997" x2="330.40000000000003" y2="220.19099999999997" stroke="#2ec42e" stroke-width="0.9" />
<line x1="324.8" y1="238.92899999999997" x2="330.40000000000003" y2="238.92899999999997" stroke="#2ec42e" stroke-width="0.9" />
<circle cx="327.60" cy="229.56" r="1.7" fill="#2ec42e"/>
<circle cx="361.80" cy="305.90" r="1.7" fill="#2ec42e"/>
<line x1="396.0" y1="299.654" x2="396.0" y2="303.12399999999997" stroke="#2ec42e" stroke-width="0.9" />
<line x1="393.2" y1="299.654" x2="398.8" y2="299.654" stroke="#2ec42e" stroke-width="0.9" />
<line x1="393.2" y1="303.12399999999997" x2="398.8" y2="303.12399999999997" stroke="#2ec42e" stroke-width="0.9" />
<circle cx="396.00" cy="301.39" r="1.7" fill="#2ec42e"/>
<line x1="430.20000000000005" y1="276.405" x2="430.20000000000005" y2="281.263" stroke="#2ec42e" stroke-width="0.9" />
<line x1="427.40000000000003" y1="276.405" x2="433.00000000000006" y2="276.405" stroke="#2ec42e" stroke-width="0.9" />
<line x1="427.40000000000003" y1="281.263" x2="433.00000000000006" y2="281.263" stroke="#2ec42e" stroke-width="0.9" />
<circle cx="430.20" cy="278.83" r="1.7" fill="#2ec42e"/>
<line x1="464.40000000000003" y1="287.162" x2="464.40000000000003" y2="294.102" stroke="#2ec42e" stroke-width="0.9" />
<line x1="461.6" y1="287.162" x2="467.20000000000005" y2="287.162" stroke="#2ec42e" stroke-width="0.9" />
<line x1="461.6" y1="294.102" x2="467.20000000000005" y2="294.102" stroke="#2ec42e" stroke-width="0.9" />
<circle cx="464.40" cy="290.63" r="1.7" fill="#2ec42e"/>
<line x1="498.6" y1="281.60999999999996" x2="498.6" y2="288.54999999999995" stroke="#2ec42e" stroke-width="0.9" />
<line x1="495.8" y1="281.60999999999996" x2="501.40000000000003" y2="281.60999999999996" stroke="#2ec42e" stroke-width="0.9" />
<line x1="495.8" y1="288.54999999999995" x2="501.40000000000003" y2="288.54999999999995" stroke="#2ec42e" stroke-width="0.9" />
<circle cx="498.60" cy="285.08" r="1.7" fill="#2ec42e"/>
<text x="626.5" y="161.4" font-size="10.55" text-anchor="middle" fill="#1a1a1a" font-weight="normal" font-family='"Liberation Sans", sans-serif' >Testosterone</text>
<line x1="564.85" y1="203.47699999999998" x2="564.85" y2="194.406" stroke="#111" stroke-width="1.3" />
<line x1="556.85" y1="194.406" x2="572.85" y2="194.406" stroke="#111" stroke-width="1.3" />
<rect x="549.7" y="203.47699999999998" width="30.299999999999955" height="117.923" fill="#ffffff" stroke="#111" stroke-width="1.3" />
<text x="564.85" y="190.906" font-size="8.3" text-anchor="middle" fill="#222" font-weight="normal" font-family='"Liberation Sans", sans-serif' >a</text>
<line x1="598.0999999999999" y1="292.45" x2="598.0999999999999" y2="287.818" stroke="#111" stroke-width="1.3" />
<line x1="590.0999999999999" y1="287.818" x2="606.0999999999999" y2="287.818" stroke="#111" stroke-width="1.3" />
<rect x="582.9" y="292.45" width="30.399999999999977" height="28.94999999999999" fill="#a2a1a6" stroke="#111" stroke-width="1.3" />
<text x="598.0999999999999" y="284.318" font-size="8.3" text-anchor="middle" fill="#222" font-weight="normal" font-family='"Liberation Sans", sans-serif' >b</text>
<line x1="631.7" y1="299.012" x2="631.7" y2="296.69599999999997" stroke="#111" stroke-width="1.3" />
<line x1="623.7" y1="296.69599999999997" x2="639.7" y2="296.69599999999997" stroke="#111" stroke-width="1.3" />
<rect x="616.2" y="299.012" width="31.0" height="22.387999999999977" fill="#0000fc" stroke="#111" stroke-width="1.3" />
<text x="631.7" y="293.19599999999997" font-size="8.3" text-anchor="middle" fill="#222" font-weight="normal" font-family='"Liberation Sans", sans-serif' >b</text>
<line x1="665.15" y1="290.90599999999995" x2="665.15" y2="287.818" stroke="#111" stroke-width="1.3" />
<line x1="657.15" y1="287.818" x2="673.15" y2="287.818" stroke="#111" stroke-width="1.3" />
<rect x="650.0" y="290.90599999999995" width="30.299999999999955" height="30.494000000000028" fill="#00bb00" stroke="#111" stroke-width="1.3" />
<text x="665.15" y="284.318" font-size="8.3" text-anchor="middle" fill="#222" font-weight="normal" font-family='"Liberation Sans", sans-serif' >b</text>
<line x1="545.9" y1="166.39999999999998" x2="545.9" y2="322.0" stroke="#111" stroke-width="1.3" />
<line x1="541.6999999999999" y1="321.4" x2="545.9" y2="321.4" stroke="#111" stroke-width="1.3" />
<text transform="translate(538.30,323.00) scale(0.9,1)" font-size="8.5" text-anchor="end" fill="#383838" font-family='"Liberation Sans", sans-serif' letter-spacing="0.0">0</text>
<line x1="541.6999999999999" y1="282.79999999999995" x2="545.9" y2="282.79999999999995" stroke="#111" stroke-width="1.3" />
<text transform="translate(538.30,284.40) scale(0.9,1)" font-size="8.5" text-anchor="end" fill="#383838" font-family='"Liberation Sans", sans-serif' letter-spacing="0.0">10</text>
<line x1="541.6999999999999" y1="244.2" x2="545.9" y2="244.2" stroke="#111" stroke-width="1.3" />
<text transform="translate(538.30,245.80) scale(0.9,1)" font-size="8.5" text-anchor="end" fill="#383838" font-family='"Liberation Sans", sans-serif' letter-spacing="0.0">20</text>
<line x1="541.6999999999999" y1="205.59999999999997" x2="545.9" y2="205.59999999999997" stroke="#111" stroke-width="1.3" />
<text transform="translate(538.30,207.20) scale(0.9,1)" font-size="8.5" text-anchor="end" fill="#383838" font-family='"Liberation Sans", sans-serif' letter-spacing="0.0">30</text>
<line x1="541.6999999999999" y1="166.99999999999997" x2="545.9" y2="166.99999999999997" stroke="#111" stroke-width="1.3" />
<text transform="translate(538.30,168.60) scale(0.9,1)" font-size="8.5" text-anchor="end" fill="#383838" font-family='"Liberation Sans", sans-serif' letter-spacing="0.0">40</text>
<line x1="545.9" y1="321.4" x2="683" y2="321.4" stroke="#111" stroke-width="1.3" />
<line x1="565.4" y1="321.4" x2="565.4" y2="325.4" stroke="#111" stroke-width="1.3" />
<line x1="598.7" y1="321.4" x2="598.7" y2="325.4" stroke="#111" stroke-width="1.3" />
<line x1="632.1" y1="321.4" x2="632.1" y2="325.4" stroke="#111" stroke-width="1.3" />
<line x1="665.5" y1="321.4" x2="665.5" y2="325.4" stroke="#111" stroke-width="1.3" />
<text transform="translate(523.3,242.5) rotate(-90)" font-size="8.6" text-anchor="middle" fill="#1a1a1a" font-family='"Liberation Sans", sans-serif'>AUC</text>
<text transform="translate(566.4,329.29999999999995) rotate(-45)" font-size="8.6" text-anchor="end" fill="#1a1a1a" font-family='"Liberation Sans", sans-serif'>Vehicle + Sham</text>
<text transform="translate(599.7,329.29999999999995) rotate(-45)" font-size="8.6" text-anchor="end" fill="#1a1a1a" font-family='"Liberation Sans", sans-serif'>EDS + Sham</text>
<text transform="translate(633.1,329.29999999999995) rotate(-45)" font-size="8.6" text-anchor="end" fill="#1a1a1a" font-family='"Liberation Sans", sans-serif'>EDS + hAd-PSC (EM)</text>
<text transform="translate(666.5,329.29999999999995) rotate(-45)" font-size="8.6" text-anchor="end" fill="#1a1a1a" font-family='"Liberation Sans", sans-serif'>EDS + hAd-PSC (DIM)</text>
<text x="151" y="420.9" font-size="10.55" text-anchor="middle" fill="#1a1a1a" font-weight="normal" font-family='"Liberation Sans", sans-serif' >Luteinising Hormone</text>
<line x1="26.2" y1="429.72" x2="26.2" y2="569.8000000000001" stroke="#111" stroke-width="1.3" />
<line x1="22.0" y1="569.2" x2="26.2" y2="569.2" stroke="#111" stroke-width="1.3" />
<text transform="translate(20.10,571.10) scale(0.9,1)" font-size="8.0" text-anchor="end" fill="#383838" font-family='"Liberation Sans", sans-serif' letter-spacing="0.0">0</text>
<line x1="22.0" y1="551.84" x2="26.2" y2="551.84" stroke="#111" stroke-width="1.3" />
<text transform="translate(20.10,553.74) scale(0.9,1)" font-size="8.0" text-anchor="end" fill="#383838" font-family='"Liberation Sans", sans-serif' letter-spacing="0.0">1</text>
<line x1="22.0" y1="534.48" x2="26.2" y2="534.48" stroke="#111" stroke-width="1.3" />
<text transform="translate(20.10,536.38) scale(0.9,1)" font-size="8.0" text-anchor="end" fill="#383838" font-family='"Liberation Sans", sans-serif' letter-spacing="0.0">2</text>
<line x1="22.0" y1="517.12" x2="26.2" y2="517.12" stroke="#111" stroke-width="1.3" />
<text transform="translate(20.10,519.02) scale(0.9,1)" font-size="8.0" text-anchor="end" fill="#383838" font-family='"Liberation Sans", sans-serif' letter-spacing="0.0">3</text>
<line x1="22.0" y1="499.76000000000005" x2="26.2" y2="499.76000000000005" stroke="#111" stroke-width="1.3" />
<text transform="translate(20.10,501.66) scale(0.9,1)" font-size="8.0" text-anchor="end" fill="#383838" font-family='"Liberation Sans", sans-serif' letter-spacing="0.0">4</text>
<line x1="22.0" y1="482.40000000000003" x2="26.2" y2="482.40000000000003" stroke="#111" stroke-width="1.3" />
<text transform="translate(20.10,484.30) scale(0.9,1)" font-size="8.0" text-anchor="end" fill="#383838" font-family='"Liberation Sans", sans-serif' letter-spacing="0.0">5</text>
<line x1="22.0" y1="465.0400000000001" x2="26.2" y2="465.0400000000001" stroke="#111" stroke-width="1.3" />
<text transform="translate(20.10,466.94) scale(0.9,1)" font-size="8.0" text-anchor="end" fill="#383838" font-family='"Liberation Sans", sans-serif' letter-spacing="0.0">6</text>
<line x1="22.0" y1="447.68000000000006" x2="26.2" y2="447.68000000000006" stroke="#111" stroke-width="1.3" />
<text transform="translate(20.10,449.58) scale(0.9,1)" font-size="8.0" text-anchor="end" fill="#383838" font-family='"Liberation Sans", sans-serif' letter-spacing="0.0">7</text>
<line x1="22.0" y1="430.32000000000005" x2="26.2" y2="430.32000000000005" stroke="#111" stroke-width="1.3" />
<text transform="translate(20.10,432.22) scale(0.9,1)" font-size="8.0" text-anchor="end" fill="#383838" font-family='"Liberation Sans", sans-serif' letter-spacing="0.0">8</text>
<line x1="41.3" y1="584.7" x2="257" y2="584.7" stroke="#111" stroke-width="1.3" />
<line x1="59.7" y1="584.7" x2="59.7" y2="588.7" stroke="#111" stroke-width="1.3" />
<text transform="translate(59.70,596.60) scale(1.0,1)" font-size="8.0" text-anchor="middle" fill="#383838" font-family='"Liberation Sans", sans-serif' letter-spacing="0.0">0</text>
<line x1="95.75" y1="584.7" x2="95.75" y2="588.7" stroke="#111" stroke-width="1.3" />
<text transform="translate(95.75,596.60) scale(1.0,1)" font-size="8.0" text-anchor="middle" fill="#383838" font-family='"Liberation Sans", sans-serif' letter-spacing="0.0">7</text>
<line x1="131.8" y1="584.7" x2="131.8" y2="588.7" stroke="#111" stroke-width="1.3" />
<text transform="translate(131.80,596.60) scale(1.0,1)" font-size="8.0" text-anchor="middle" fill="#383838" font-family='"Liberation Sans", sans-serif' letter-spacing="0.0">14</text>
<line x1="167.85" y1="584.7" x2="167.85" y2="588.7" stroke="#111" stroke-width="1.3" />
<text transform="translate(167.85,596.60) scale(1.0,1)" font-size="8.0" text-anchor="middle" fill="#383838" font-family='"Liberation Sans", sans-serif' letter-spacing="0.0">21</text>
<line x1="203.89999999999998" y1="584.7" x2="203.89999999999998" y2="588.7" stroke="#111" stroke-width="1.3" />
<text transform="translate(203.90,596.60) scale(1.0,1)" font-size="8.0" text-anchor="middle" fill="#383838" font-family='"Liberation Sans", sans-serif' letter-spacing="0.0">28</text>
<line x1="239.95" y1="584.7" x2="239.95" y2="588.7" stroke="#111" stroke-width="1.3" />
<text transform="translate(239.95,596.60) scale(1.0,1)" font-size="8.0" text-anchor="middle" fill="#383838" font-family='"Liberation Sans", sans-serif' letter-spacing="0.0">35</text>
<text x="145.6" y="609.4" font-size="8.45" text-anchor="middle" fill="#1a1a1a" font-weight="normal" font-family='"Liberation Sans", sans-serif' >Days Post EDS</text>
<text transform="translate(9.6,497.8) rotate(-90)" font-size="8.6" text-anchor="middle" fill="#1a1a1a" font-family='"Liberation Sans", sans-serif'>Serum LH (ng/mL)</text>
<polyline points="59.70,557.05 95.75,458.96 131.80,476.67 167.85,536.22 203.90,537.78 239.95,527.02" fill="none" stroke="#a6a6a6" stroke-width="1.0" stroke-linejoin="round"/>
<polyline points="59.70,559.65 95.75,468.69 131.80,446.81 167.85,538.82 203.90,543.16 239.95,540.56" fill="none" stroke="#a6a6a6" stroke-width="1.0" stroke-linejoin="round"/>
<polyline points="59.70,560.52 95.75,471.81 131.80,471.46 167.85,552.36 203.90,548.37 239.95,559.65" fill="none" stroke="#a6a6a6" stroke-width="1.0" stroke-linejoin="round"/>
<polyline points="59.70,555.31 95.75,499.76 131.80,502.19 167.85,541.42 203.90,551.84 239.95,548.37" fill="none" stroke="#a6a6a6" stroke-width="1.0" stroke-linejoin="round"/>
<polyline points="59.70,561.39 95.75,514.69 131.80,479.10 167.85,533.61 203.90,544.90 239.95,551.84" fill="none" stroke="#a6a6a6" stroke-width="1.0" stroke-linejoin="round"/>
<polyline points="59.70,558.78 95.75,520.94 131.80,483.27 167.85,543.16 203.90,541.42 239.95,546.63" fill="none" stroke="#a6a6a6" stroke-width="1.0" stroke-linejoin="round"/>
<circle cx="59.70" cy="557.05" r="1.6" fill="#a6a6a6"/>
<circle cx="95.75" cy="458.96" r="1.6" fill="#a6a6a6"/>
<circle cx="131.80" cy="476.67" r="1.6" fill="#a6a6a6"/>
<circle cx="167.85" cy="536.22" r="1.6" fill="#a6a6a6"/>
<circle cx="203.90" cy="537.78" r="1.6" fill="#a6a6a6"/>
<circle cx="239.95" cy="527.02" r="1.6" fill="#a6a6a6"/>
<circle cx="59.70" cy="559.65" r="1.6" fill="#a6a6a6"/>
<circle cx="95.75" cy="468.69" r="1.6" fill="#a6a6a6"/>
<circle cx="131.80" cy="446.81" r="1.6" fill="#a6a6a6"/>
<circle cx="167.85" cy="538.82" r="1.6" fill="#a6a6a6"/>
<circle cx="203.90" cy="543.16" r="1.6" fill="#a6a6a6"/>
<circle cx="239.95" cy="540.56" r="1.6" fill="#a6a6a6"/>
<circle cx="59.70" cy="560.52" r="1.6" fill="#a6a6a6"/>
<circle cx="95.75" cy="471.81" r="1.6" fill="#a6a6a6"/>
<circle cx="131.80" cy="471.46" r="1.6" fill="#a6a6a6"/>
<circle cx="167.85" cy="552.36" r="1.6" fill="#a6a6a6"/>
<circle cx="203.90" cy="548.37" r="1.6" fill="#a6a6a6"/>
<circle cx="239.95" cy="559.65" r="1.6" fill="#a6a6a6"/>
<circle cx="59.70" cy="555.31" r="1.6" fill="#a6a6a6"/>
<circle cx="95.75" cy="499.76" r="1.6" fill="#a6a6a6"/>
<circle cx="131.80" cy="502.19" r="1.6" fill="#a6a6a6"/>
<circle cx="167.85" cy="541.42" r="1.6" fill="#a6a6a6"/>
<circle cx="203.90" cy="551.84" r="1.6" fill="#a6a6a6"/>
<circle cx="239.95" cy="548.37" r="1.6" fill="#a6a6a6"/>
<circle cx="59.70" cy="561.39" r="1.6" fill="#a6a6a6"/>
<circle cx="95.75" cy="514.69" r="1.6" fill="#a6a6a6"/>
<circle cx="131.80" cy="479.10" r="1.6" fill="#a6a6a6"/>
<circle cx="167.85" cy="533.61" r="1.6" fill="#a6a6a6"/>
<circle cx="203.90" cy="544.90" r="1.6" fill="#a6a6a6"/>
<circle cx="239.95" cy="551.84" r="1.6" fill="#a6a6a6"/>
<circle cx="59.70" cy="558.78" r="1.6" fill="#a6a6a6"/>
<circle cx="95.75" cy="520.94" r="1.6" fill="#a6a6a6"/>
<circle cx="131.80" cy="483.27" r="1.6" fill="#a6a6a6"/>
<circle cx="167.85" cy="543.16" r="1.6" fill="#a6a6a6"/>
<circle cx="203.90" cy="541.42" r="1.6" fill="#a6a6a6"/>
<circle cx="239.95" cy="546.63" r="1.6" fill="#a6a6a6"/>
<polyline points="59.70,560.52 95.75,497.85 131.80,484.48 167.85,521.11 203.90,541.42 239.95,543.16" fill="none" stroke="#2ec42e" stroke-width="1.0" stroke-linejoin="round"/>
<polyline points="59.70,557.92 95.75,501.15 131.80,486.05 167.85,545.07 203.90,546.63 239.95,544.90" fill="none" stroke="#2ec42e" stroke-width="1.0" stroke-linejoin="round"/>
<polyline points="59.70,559.65 95.75,503.93 131.80,488.30 167.85,553.58 203.90,531.18 239.95,546.63" fill="none" stroke="#2ec42e" stroke-width="1.0" stroke-linejoin="round"/>
<polyline points="59.70,562.26 95.75,524.93 131.80,491.25 167.85,548.37 203.90,551.84 239.95,550.10" fill="none" stroke="#2ec42e" stroke-width="1.0" stroke-linejoin="round"/>
<polyline points="59.70,563.99 95.75,531.36 131.80,503.75 167.85,550.97 203.90,554.27 239.95,555.31" fill="none" stroke="#2ec42e" stroke-width="1.0" stroke-linejoin="round"/>
<circle cx="59.70" cy="560.52" r="1.6" fill="#2ec42e"/>
<circle cx="95.75" cy="497.85" r="1.6" fill="#2ec42e"/>
<circle cx="131.80" cy="484.48" r="1.6" fill="#2ec42e"/>
<circle cx="167.85" cy="521.11" r="1.6" fill="#2ec42e"/>
<circle cx="203.90" cy="541.42" r="1.6" fill="#2ec42e"/>
<circle cx="239.95" cy="543.16" r="1.6" fill="#2ec42e"/>
<circle cx="59.70" cy="557.92" r="1.6" fill="#2ec42e"/>
<circle cx="95.75" cy="501.15" r="1.6" fill="#2ec42e"/>
<circle cx="131.80" cy="486.05" r="1.6" fill="#2ec42e"/>
<circle cx="167.85" cy="545.07" r="1.6" fill="#2ec42e"/>
<circle cx="203.90" cy="546.63" r="1.6" fill="#2ec42e"/>
<circle cx="239.95" cy="544.90" r="1.6" fill="#2ec42e"/>
<circle cx="59.70" cy="559.65" r="1.6" fill="#2ec42e"/>
<circle cx="95.75" cy="503.93" r="1.6" fill="#2ec42e"/>
<circle cx="131.80" cy="488.30" r="1.6" fill="#2ec42e"/>
<circle cx="167.85" cy="553.58" r="1.6" fill="#2ec42e"/>
<circle cx="203.90" cy="531.18" r="1.6" fill="#2ec42e"/>
<circle cx="239.95" cy="546.63" r="1.6" fill="#2ec42e"/>
<circle cx="59.70" cy="562.26" r="1.6" fill="#2ec42e"/>
<circle cx="95.75" cy="524.93" r="1.6" fill="#2ec42e"/>
<circle cx="131.80" cy="491.25" r="1.6" fill="#2ec42e"/>
<circle cx="167.85" cy="548.37" r="1.6" fill="#2ec42e"/>
<circle cx="203.90" cy="551.84" r="1.6" fill="#2ec42e"/>
<circle cx="239.95" cy="550.10" r="1.6" fill="#2ec42e"/>
<circle cx="59.70" cy="563.99" r="1.6" fill="#2ec42e"/>
<circle cx="95.75" cy="531.36" r="1.6" fill="#2ec42e"/>
<circle cx="131.80" cy="503.75" r="1.6" fill="#2ec42e"/>
<circle cx="167.85" cy="550.97" r="1.6" fill="#2ec42e"/>
<circle cx="203.90" cy="554.27" r="1.6" fill="#2ec42e"/>
<circle cx="239.95" cy="555.31" r="1.6" fill="#2ec42e"/>
<polyline points="59.70,568.33 95.75,465.39 131.80,441.95 167.85,528.75 203.90,535.00 239.95,542.99" fill="none" stroke="#1818ff" stroke-width="1.0" stroke-linejoin="round"/>
<polyline points="59.70,565.73 95.75,467.64 131.80,457.23 167.85,535.17 203.90,550.10 239.95,548.37" fill="none" stroke="#1818ff" stroke-width="1.0" stroke-linejoin="round"/>
<polyline points="59.70,563.12 95.75,475.63 131.80,471.98 167.85,541.42 203.90,554.27 239.95,551.84" fill="none" stroke="#1818ff" stroke-width="1.0" stroke-linejoin="round"/>
<polyline points="59.70,558.78 95.75,478.93 131.80,478.93 167.85,547.85 203.90,543.16 239.95,549.76" fill="none" stroke="#1818ff" stroke-width="1.0" stroke-linejoin="round"/>
<polyline points="59.70,568.85 95.75,486.57 131.80,478.93 167.85,537.95 203.90,548.37 239.95,546.63" fill="none" stroke="#1818ff" stroke-width="1.0" stroke-linejoin="round"/>
<circle cx="59.70" cy="568.33" r="1.6" fill="#1818ff"/>
<circle cx="95.75" cy="465.39" r="1.6" fill="#1818ff"/>
<circle cx="131.80" cy="441.95" r="1.6" fill="#1818ff"/>
<circle cx="167.85" cy="528.75" r="1.6" fill="#1818ff"/>
<circle cx="203.90" cy="535.00" r="1.6" fill="#1818ff"/>
<circle cx="239.95" cy="542.99" r="1.6" fill="#1818ff"/>
<circle cx="59.70" cy="565.73" r="1.6" fill="#1818ff"/>
<circle cx="95.75" cy="467.64" r="1.6" fill="#1818ff"/>
<circle cx="131.80" cy="457.23" r="1.6" fill="#1818ff"/>
<circle cx="167.85" cy="535.17" r="1.6" fill="#1818ff"/>
<circle cx="203.90" cy="550.10" r="1.6" fill="#1818ff"/>
<circle cx="239.95" cy="548.37" r="1.6" fill="#1818ff"/>
<circle cx="59.70" cy="563.12" r="1.6" fill="#1818ff"/>
<circle cx="95.75" cy="475.63" r="1.6" fill="#1818ff"/>
<circle cx="131.80" cy="471.98" r="1.6" fill="#1818ff"/>
<circle cx="167.85" cy="541.42" r="1.6" fill="#1818ff"/>
<circle cx="203.90" cy="554.27" r="1.6" fill="#1818ff"/>
<circle cx="239.95" cy="551.84" r="1.6" fill="#1818ff"/>
<circle cx="59.70" cy="558.78" r="1.6" fill="#1818ff"/>
<circle cx="95.75" cy="478.93" r="1.6" fill="#1818ff"/>
<circle cx="131.80" cy="478.93" r="1.6" fill="#1818ff"/>
<circle cx="167.85" cy="547.85" r="1.6" fill="#1818ff"/>
<circle cx="203.90" cy="543.16" r="1.6" fill="#1818ff"/>
<circle cx="239.95" cy="549.76" r="1.6" fill="#1818ff"/>
<circle cx="59.70" cy="568.85" r="1.6" fill="#1818ff"/>
<circle cx="95.75" cy="486.57" r="1.6" fill="#1818ff"/>
<circle cx="131.80" cy="478.93" r="1.6" fill="#1818ff"/>
<circle cx="167.85" cy="537.95" r="1.6" fill="#1818ff"/>
<circle cx="203.90" cy="548.37" r="1.6" fill="#1818ff"/>
<circle cx="239.95" cy="546.63" r="1.6" fill="#1818ff"/>
<polyline points="59.70,564.34 95.75,545.76 131.80,539.51 167.85,568.33 203.90,553.58 239.95,546.81" fill="none" stroke="#111111" stroke-width="1.0" stroke-linejoin="round"/>
<polyline points="59.70,566.08 95.75,547.50 131.80,549.76 167.85,553.58 203.90,546.98 239.95,551.84" fill="none" stroke="#111111" stroke-width="1.0" stroke-linejoin="round"/>
<polyline points="59.70,552.36 95.75,554.10 131.80,554.27 167.85,558.26 203.90,561.56 239.95,555.31" fill="none" stroke="#111111" stroke-width="1.0" stroke-linejoin="round"/>
<polyline points="59.70,555.66 95.75,560.00 131.80,558.26 167.85,559.65 203.90,564.86 239.95,557.05" fill="none" stroke="#111111" stroke-width="1.0" stroke-linejoin="round"/>
<polyline points="59.70,559.65 95.75,558.78 131.80,560.52 167.85,556.18 203.90,557.05 239.95,548.37" fill="none" stroke="#111111" stroke-width="1.0" stroke-linejoin="round"/>
<polyline points="59.70,553.58 95.75,564.34 131.80,562.43 167.85,558.78 203.90,550.28 239.95,558.26" fill="none" stroke="#111111" stroke-width="1.0" stroke-linejoin="round"/>
<circle cx="59.70" cy="564.34" r="1.6" fill="#111111"/>
<circle cx="95.75" cy="545.76" r="1.6" fill="#111111"/>
<circle cx="131.80" cy="539.51" r="1.6" fill="#111111"/>
<circle cx="167.85" cy="568.33" r="1.6" fill="#111111"/>
<circle cx="203.90" cy="553.58" r="1.6" fill="#111111"/>
<circle cx="239.95" cy="546.81" r="1.6" fill="#111111"/>
<circle cx="59.70" cy="566.08" r="1.6" fill="#111111"/>
<circle cx="95.75" cy="547.50" r="1.6" fill="#111111"/>
<circle cx="131.80" cy="549.76" r="1.6" fill="#111111"/>
<circle cx="167.85" cy="553.58" r="1.6" fill="#111111"/>
<circle cx="203.90" cy="546.98" r="1.6" fill="#111111"/>
<circle cx="239.95" cy="551.84" r="1.6" fill="#111111"/>
<circle cx="59.70" cy="552.36" r="1.6" fill="#111111"/>
<circle cx="95.75" cy="554.10" r="1.6" fill="#111111"/>
<circle cx="131.80" cy="554.27" r="1.6" fill="#111111"/>
<circle cx="167.85" cy="558.26" r="1.6" fill="#111111"/>
<circle cx="203.90" cy="561.56" r="1.6" fill="#111111"/>
<circle cx="239.95" cy="555.31" r="1.6" fill="#111111"/>
<circle cx="59.70" cy="555.66" r="1.6" fill="#111111"/>
<circle cx="95.75" cy="560.00" r="1.6" fill="#111111"/>
<circle cx="131.80" cy="558.26" r="1.6" fill="#111111"/>
<circle cx="167.85" cy="559.65" r="1.6" fill="#111111"/>
<circle cx="203.90" cy="564.86" r="1.6" fill="#111111"/>
<circle cx="239.95" cy="557.05" r="1.6" fill="#111111"/>
<circle cx="59.70" cy="559.65" r="1.6" fill="#111111"/>
<circle cx="95.75" cy="558.78" r="1.6" fill="#111111"/>
<circle cx="131.80" cy="560.52" r="1.6" fill="#111111"/>
<circle cx="167.85" cy="556.18" r="1.6" fill="#111111"/>
<circle cx="203.90" cy="557.05" r="1.6" fill="#111111"/>
<circle cx="239.95" cy="548.37" r="1.6" fill="#111111"/>
<circle cx="59.70" cy="553.58" r="1.6" fill="#111111"/>
<circle cx="95.75" cy="564.34" r="1.6" fill="#111111"/>
<circle cx="131.80" cy="562.43" r="1.6" fill="#111111"/>
<circle cx="167.85" cy="558.78" r="1.6" fill="#111111"/>
<circle cx="203.90" cy="550.28" r="1.6" fill="#111111"/>
<circle cx="239.95" cy="558.26" r="1.6" fill="#111111"/>
<text x="415.5" y="420.9" font-size="10.55" text-anchor="middle" fill="#1a1a1a" font-weight="normal" font-family='"Liberation Sans", sans-serif' >Luteinising Hormone</text>
<polygon points="327.70,585.00 327.70,562.55 362.00,461.06 396.00,451.13 430.10,534.15 430.10,585.00" fill="#fdefdc"/>
<line x1="289.4" y1="429.88" x2="289.4" y2="570.1" stroke="#111" stroke-width="1.3" />
<line x1="285.2" y1="569.5" x2="289.4" y2="569.5" stroke="#111" stroke-width="1.3" />
<text transform="translate(283.30,571.40) scale(0.9,1)" font-size="8.0" text-anchor="end" fill="#383838" font-family='"Liberation Sans", sans-serif' letter-spacing="0.0">0</text>
<line x1="285.2" y1="549.64" x2="289.4" y2="549.64" stroke="#111" stroke-width="1.3" />
<text transform="translate(283.30,551.54) scale(0.9,1)" font-size="8.0" text-anchor="end" fill="#383838" font-family='"Liberation Sans", sans-serif' letter-spacing="0.0">1</text>
<line x1="285.2" y1="529.78" x2="289.4" y2="529.78" stroke="#111" stroke-width="1.3" />
<text transform="translate(283.30,531.68) scale(0.9,1)" font-size="8.0" text-anchor="end" fill="#383838" font-family='"Liberation Sans", sans-serif' letter-spacing="0.0">2</text>
<line x1="285.2" y1="509.92" x2="289.4" y2="509.92" stroke="#111" stroke-width="1.3" />
<text transform="translate(283.30,511.82) scale(0.9,1)" font-size="8.0" text-anchor="end" fill="#383838" font-family='"Liberation Sans", sans-serif' letter-spacing="0.0">3</text>
<line x1="285.2" y1="490.06" x2="289.4" y2="490.06" stroke="#111" stroke-width="1.3" />
<text transform="translate(283.30,491.96) scale(0.9,1)" font-size="8.0" text-anchor="end" fill="#383838" font-family='"Liberation Sans", sans-serif' letter-spacing="0.0">4</text>
<line x1="285.2" y1="470.2" x2="289.4" y2="470.2" stroke="#111" stroke-width="1.3" />
<text transform="translate(283.30,472.10) scale(0.9,1)" font-size="8.0" text-anchor="end" fill="#383838" font-family='"Liberation Sans", sans-serif' letter-spacing="0.0">5</text>
<line x1="285.2" y1="450.34000000000003" x2="289.4" y2="450.34000000000003" stroke="#111" stroke-width="1.3" />
<text transform="translate(283.30,452.24) scale(0.9,1)" font-size="8.0" text-anchor="end" fill="#383838" font-family='"Liberation Sans", sans-serif' letter-spacing="0.0">6</text>
<line x1="285.2" y1="430.48" x2="289.4" y2="430.48" stroke="#111" stroke-width="1.3" />
<text transform="translate(283.30,432.38) scale(0.9,1)" font-size="8.0" text-anchor="end" fill="#383838" font-family='"Liberation Sans", sans-serif' letter-spacing="0.0">7</text>
<line x1="305.3" y1="585.0" x2="522" y2="585.0" stroke="#111" stroke-width="1.3" />
<line x1="327.7" y1="585.0" x2="327.7" y2="589.0" stroke="#111" stroke-width="1.3" />
<text transform="translate(327.70,596.90) scale(1.0,1)" font-size="8.0" text-anchor="middle" fill="#383838" font-family='"Liberation Sans", sans-serif' letter-spacing="0.0">0</text>
<line x1="362.0" y1="585.0" x2="362.0" y2="589.0" stroke="#111" stroke-width="1.3" />
<text transform="translate(362.00,596.90) scale(1.0,1)" font-size="8.0" text-anchor="middle" fill="#383838" font-family='"Liberation Sans", sans-serif' letter-spacing="0.0">7</text>
<line x1="396.0" y1="585.0" x2="396.0" y2="589.0" stroke="#111" stroke-width="1.3" />
<text transform="translate(396.00,596.90) scale(1.0,1)" font-size="8.0" text-anchor="middle" fill="#383838" font-family='"Liberation Sans", sans-serif' letter-spacing="0.0">14</text>
<line x1="430.1" y1="585.0" x2="430.1" y2="589.0" stroke="#111" stroke-width="1.3" />
<text transform="translate(430.10,596.90) scale(1.0,1)" font-size="8.0" text-anchor="middle" fill="#383838" font-family='"Liberation Sans", sans-serif' letter-spacing="0.0">21</text>
<line x1="464.0" y1="585.0" x2="464.0" y2="589.0" stroke="#111" stroke-width="1.3" />
<text transform="translate(464.00,596.90) scale(1.0,1)" font-size="8.0" text-anchor="middle" fill="#383838" font-family='"Liberation Sans", sans-serif' letter-spacing="0.0">28</text>
<line x1="498.5" y1="585.0" x2="498.5" y2="589.0" stroke="#111" stroke-width="1.3" />
<text transform="translate(498.50,596.90) scale(1.0,1)" font-size="8.0" text-anchor="middle" fill="#383838" font-family='"Liberation Sans", sans-serif' letter-spacing="0.0">35</text>
<text x="409.7" y="609.3" font-size="8.45" text-anchor="middle" fill="#1a1a1a" font-weight="normal" font-family='"Liberation Sans", sans-serif' >Days Post EDS</text>
<text transform="translate(272.7,501.9) rotate(-90)" font-size="8.6" text-anchor="middle" fill="#1a1a1a" font-family='"Liberation Sans", sans-serif'>Serum LH (ng/mL)</text>
<polyline points="327.70,559.17 362.00,553.02 396.00,552.02 430.10,557.39 464.00,554.01 489.70,551.43 498.50,550.43" fill="none" stroke="#111111" stroke-width="1.0" stroke-linejoin="round"/>
<line x1="327.7" y1="558.1798" x2="327.7" y2="560.1658" stroke="#111111" stroke-width="0.9" />
<line x1="324.9" y1="558.1798" x2="330.5" y2="558.1798" stroke="#111111" stroke-width="0.9" />
<line x1="324.9" y1="560.1658" x2="330.5" y2="560.1658" stroke="#111111" stroke-width="0.9" />
<circle cx="327.70" cy="559.17" r="1.7" fill="#111111"/>
<line x1="362.0" y1="550.0372" x2="362.0" y2="555.9952" stroke="#111111" stroke-width="0.9" />
<line x1="359.2" y1="550.0372" x2="364.8" y2="550.0372" stroke="#111111" stroke-width="0.9" />
<line x1="359.2" y1="555.9952" x2="364.8" y2="555.9952" stroke="#111111" stroke-width="0.9" />
<circle cx="362.00" cy="553.02" r="1.7" fill="#111111"/>
<line x1="396.0" y1="549.0442" x2="396.0" y2="555.0022" stroke="#111111" stroke-width="0.9" />
<line x1="393.2" y1="549.0442" x2="398.8" y2="549.0442" stroke="#111111" stroke-width="0.9" />
<line x1="393.2" y1="555.0022" x2="398.8" y2="555.0022" stroke="#111111" stroke-width="0.9" />
<circle cx="396.00" cy="552.02" r="1.7" fill="#111111"/>
<line x1="430.1" y1="555.3994" x2="430.1" y2="559.3714" stroke="#111111" stroke-width="0.9" />
<line x1="427.3" y1="555.3994" x2="432.90000000000003" y2="555.3994" stroke="#111111" stroke-width="0.9" />
<line x1="427.3" y1="559.3714" x2="432.90000000000003" y2="559.3714" stroke="#111111" stroke-width="0.9" />
<circle cx="430.10" cy="557.39" r="1.7" fill="#111111"/>
<line x1="464.0" y1="550.0372" x2="464.0" y2="557.9812" stroke="#111111" stroke-width="0.9" />
<line x1="461.2" y1="550.0372" x2="466.8" y2="550.0372" stroke="#111111" stroke-width="0.9" />
<line x1="461.2" y1="557.9812" x2="466.8" y2="557.9812" stroke="#111111" stroke-width="0.9" />
<circle cx="464.00" cy="554.01" r="1.7" fill="#111111"/>
<line x1="489.7" y1="549.4414" x2="489.7" y2="553.4134" stroke="#111111" stroke-width="0.9" />
<line x1="486.9" y1="549.4414" x2="492.5" y2="549.4414" stroke="#111111" stroke-width="0.9" />
<line x1="486.9" y1="553.4134" x2="492.5" y2="553.4134" stroke="#111111" stroke-width="0.9" />
<circle cx="489.70" cy="551.43" r="1.7" fill="#111111"/>
<polyline points="327.70,557.78 362.00,477.15 396.00,461.66 430.10,538.92 464.00,542.29 489.70,543.09 498.50,542.69" fill="none" stroke="#a6a6a6" stroke-width="1.0" stroke-linejoin="round"/>
<line x1="327.7" y1="555.7966" x2="327.7" y2="559.7686" stroke="#a6a6a6" stroke-width="0.9" />
<line x1="324.9" y1="555.7966" x2="330.5" y2="555.7966" stroke="#a6a6a6" stroke-width="0.9" />
<line x1="324.9" y1="559.7686" x2="330.5" y2="559.7686" stroke="#a6a6a6" stroke-width="0.9" />
<circle cx="327.70" cy="557.78" r="1.7" fill="#a6a6a6"/>
<line x1="362.0" y1="465.4336" x2="362.0" y2="488.8684" stroke="#a6a6a6" stroke-width="0.9" />
<line x1="359.2" y1="465.4336" x2="364.8" y2="465.4336" stroke="#a6a6a6" stroke-width="0.9" />
<line x1="359.2" y1="488.8684" x2="364.8" y2="488.8684" stroke="#a6a6a6" stroke-width="0.9" />
<circle cx="362.00" cy="477.15" r="1.7" fill="#a6a6a6"/>
<line x1="396.0" y1="452.7232" x2="396.0" y2="470.59720000000004" stroke="#a6a6a6" stroke-width="0.9" />
<line x1="393.2" y1="452.7232" x2="398.8" y2="452.7232" stroke="#a6a6a6" stroke-width="0.9" />
<line x1="393.2" y1="470.59720000000004" x2="398.8" y2="470.59720000000004" stroke="#a6a6a6" stroke-width="0.9" />
<circle cx="396.00" cy="461.66" r="1.7" fill="#a6a6a6"/>
<line x1="430.1" y1="534.9436000000001" x2="430.1" y2="542.8876" stroke="#a6a6a6" stroke-width="0.9" />
<line x1="427.3" y1="534.9436000000001" x2="432.90000000000003" y2="534.9436000000001" stroke="#a6a6a6" stroke-width="0.9" />
<line x1="427.3" y1="542.8876" x2="432.90000000000003" y2="542.8876" stroke="#a6a6a6" stroke-width="0.9" />
<circle cx="430.10" cy="538.92" r="1.7" fill="#a6a6a6"/>
<line x1="464.0" y1="539.3128" x2="464.0" y2="545.2708" stroke="#a6a6a6" stroke-width="0.9" />
<line x1="461.2" y1="539.3128" x2="466.8" y2="539.3128" stroke="#a6a6a6" stroke-width="0.9" />
<line x1="461.2" y1="545.2708" x2="466.8" y2="545.2708" stroke="#a6a6a6" stroke-width="0.9" />
<circle cx="464.00" cy="542.29" r="1.7" fill="#a6a6a6"/>
<line x1="489.7" y1="536.1351999999999" x2="489.7" y2="550.0372" stroke="#a6a6a6" stroke-width="0.9" />
<line x1="486.9" y1="536.1351999999999" x2="492.5" y2="536.1351999999999" stroke="#a6a6a6" stroke-width="0.9" />
<line x1="486.9" y1="550.0372" x2="492.5" y2="550.0372" stroke="#a6a6a6" stroke-width="0.9" />
<circle cx="489.70" cy="543.09" r="1.7" fill="#a6a6a6"/>
<polyline points="327.70,562.55 362.00,461.06 396.00,451.13 430.10,534.15 464.00,543.48 489.70,546.86 498.50,547.65" fill="none" stroke="#1818ff" stroke-width="1.0" stroke-linejoin="round"/>
<line x1="327.7" y1="559.9672" x2="327.7" y2="565.1308" stroke="#1818ff" stroke-width="0.9" />
<line x1="324.9" y1="559.9672" x2="330.5" y2="559.9672" stroke="#1818ff" stroke-width="0.9" />
<line x1="324.9" y1="565.1308" x2="330.5" y2="565.1308" stroke="#1818ff" stroke-width="0.9" />
<circle cx="327.70" cy="562.55" r="1.7" fill="#1818ff"/>
<line x1="362.0" y1="456.298" x2="362.0" y2="465.8308" stroke="#1818ff" stroke-width="0.9" />
<line x1="359.2" y1="456.298" x2="364.8" y2="456.298" stroke="#1818ff" stroke-width="0.9" />
<line x1="359.2" y1="465.8308" x2="364.8" y2="465.8308" stroke="#1818ff" stroke-width="0.9" />
<circle cx="362.00" cy="461.06" r="1.7" fill="#1818ff"/>
<line x1="396.0" y1="442.5946" x2="396.0" y2="459.6742" stroke="#1818ff" stroke-width="0.9" />
<line x1="393.2" y1="442.5946" x2="398.8" y2="442.5946" stroke="#1818ff" stroke-width="0.9" />
<line x1="393.2" y1="459.6742" x2="398.8" y2="459.6742" stroke="#1818ff" stroke-width="0.9" />
<circle cx="396.00" cy="451.13" r="1.7" fill="#1818ff"/>
<line x1="430.1" y1="532.1632" x2="430.1" y2="536.1352" stroke="#1818ff" stroke-width="0.9" />
<line x1="427.3" y1="532.1632" x2="432.90000000000003" y2="532.1632" stroke="#1818ff" stroke-width="0.9" />
<line x1="427.3" y1="536.1352" x2="432.90000000000003" y2="536.1352" stroke="#1818ff" stroke-width="0.9" />
<circle cx="430.10" cy="534.15" r="1.7" fill="#1818ff"/>
<line x1="464.0" y1="540.5044" x2="464.0" y2="546.4624" stroke="#1818ff" stroke-width="0.9" />
<line x1="461.2" y1="540.5044" x2="466.8" y2="540.5044" stroke="#1818ff" stroke-width="0.9" />
<line x1="461.2" y1="546.4624" x2="466.8" y2="546.4624" stroke="#1818ff" stroke-width="0.9" />
<circle cx="464.00" cy="543.48" r="1.7" fill="#1818ff"/>
<line x1="489.7" y1="544.8736" x2="489.7" y2="548.8456" stroke="#1818ff" stroke-width="0.9" />
<line x1="486.9" y1="544.8736" x2="492.5" y2="544.8736" stroke="#1818ff" stroke-width="0.9" />
<line x1="486.9" y1="548.8456" x2="492.5" y2="548.8456" stroke="#1818ff" stroke-width="0.9" />
<circle cx="489.70" cy="546.86" r="1.7" fill="#1818ff"/>
<polyline points="327.70,559.97 362.00,503.76 396.00,478.54 430.10,531.96 464.00,540.31 489.70,543.48 498.50,544.48" fill="none" stroke="#2ec42e" stroke-width="1.0" stroke-linejoin="round"/>
<line x1="327.7" y1="557.9812" x2="327.7" y2="561.9532" stroke="#2ec42e" stroke-width="0.9" />
<line x1="324.9" y1="557.9812" x2="330.5" y2="557.9812" stroke="#2ec42e" stroke-width="0.9" />
<line x1="324.9" y1="561.9532" x2="330.5" y2="561.9532" stroke="#2ec42e" stroke-width="0.9" />
<circle cx="327.70" cy="559.97" r="1.7" fill="#2ec42e"/>
<line x1="362.0" y1="497.2096" x2="362.0" y2="510.3172" stroke="#2ec42e" stroke-width="0.9" />
<line x1="359.2" y1="497.2096" x2="364.8" y2="497.2096" stroke="#2ec42e" stroke-width="0.9" />
<line x1="359.2" y1="510.3172" x2="364.8" y2="510.3172" stroke="#2ec42e" stroke-width="0.9" />
<circle cx="362.00" cy="503.76" r="1.7" fill="#2ec42e"/>
<line x1="396.0" y1="475.56219999999996" x2="396.0" y2="481.5202" stroke="#2ec42e" stroke-width="0.9" />
<line x1="393.2" y1="475.56219999999996" x2="398.8" y2="475.56219999999996" stroke="#2ec42e" stroke-width="0.9" />
<line x1="393.2" y1="481.5202" x2="398.8" y2="481.5202" stroke="#2ec42e" stroke-width="0.9" />
<circle cx="396.00" cy="478.54" r="1.7" fill="#2ec42e"/>
<line x1="430.1" y1="527.9926" x2="430.1" y2="535.9366" stroke="#2ec42e" stroke-width="0.9" />
<line x1="427.3" y1="527.9926" x2="432.90000000000003" y2="527.9926" stroke="#2ec42e" stroke-width="0.9" />
<line x1="427.3" y1="535.9366" x2="432.90000000000003" y2="535.9366" stroke="#2ec42e" stroke-width="0.9" />
<circle cx="430.10" cy="531.96" r="1.7" fill="#2ec42e"/>
<line x1="464.0" y1="535.3408" x2="464.0" y2="545.2708" stroke="#2ec42e" stroke-width="0.9" />
<line x1="461.2" y1="535.3408" x2="466.8" y2="535.3408" stroke="#2ec42e" stroke-width="0.9" />
<line x1="461.2" y1="545.2708" x2="466.8" y2="545.2708" stroke="#2ec42e" stroke-width="0.9" />
<circle cx="464.00" cy="540.31" r="1.7" fill="#2ec42e"/>
<line x1="489.7" y1="540.5044" x2="489.7" y2="546.4624" stroke="#2ec42e" stroke-width="0.9" />
<line x1="486.9" y1="540.5044" x2="492.5" y2="540.5044" stroke="#2ec42e" stroke-width="0.9" />
<line x1="486.9" y1="546.4624" x2="492.5" y2="546.4624" stroke="#2ec42e" stroke-width="0.9" />
<circle cx="489.70" cy="543.48" r="1.7" fill="#2ec42e"/>
<text x="624.8" y="420.9" font-size="10.55" text-anchor="middle" fill="#1a1a1a" font-weight="normal" font-family='"Liberation Sans", sans-serif' >Luteinising Hormone</text>
<line x1="564.85" y1="564.48" x2="564.85" y2="561.1808" stroke="#111" stroke-width="1.3" />
<line x1="556.85" y1="561.1808" x2="572.85" y2="561.1808" stroke="#111" stroke-width="1.3" />
<rect x="549.7" y="564.48" width="30.299999999999955" height="20.620000000000005" fill="#ffffff" stroke="#111" stroke-width="1.3" />
<text x="564.85" y="557.6808" font-size="8.3" text-anchor="middle" fill="#222" font-weight="normal" font-family='"Liberation Sans", sans-serif' >a</text>
<line x1="598.0999999999999" y1="495.19680000000005" x2="598.0999999999999" y2="486.124" stroke="#111" stroke-width="1.3" />
<line x1="590.0999999999999" y1="486.124" x2="606.0999999999999" y2="486.124" stroke="#111" stroke-width="1.3" />
<rect x="582.9" y="495.19680000000005" width="30.399999999999977" height="89.90319999999997" fill="#a2a1a6" stroke="#111" stroke-width="1.3" />
<text x="598.0999999999999" y="482.624" font-size="8.3" text-anchor="middle" fill="#222" font-weight="normal" font-family='"Liberation Sans", sans-serif' >bc</text>
<line x1="631.7" y1="484.3713" x2="631.7" y2="480.04110000000003" stroke="#111" stroke-width="1.3" />
<line x1="623.7" y1="480.04110000000003" x2="639.7" y2="480.04110000000003" stroke="#111" stroke-width="1.3" />
<rect x="616.2" y="484.3713" width="31.0" height="100.7287" fill="#0000fc" stroke="#111" stroke-width="1.3" />
<text x="631.7" y="476.54110000000003" font-size="8.3" text-anchor="middle" fill="#222" font-weight="normal" font-family='"Liberation Sans", sans-serif' >b</text>
<line x1="665.15" y1="507.8781" x2="665.15" y2="504.3727" stroke="#111" stroke-width="1.3" />
<line x1="657.15" y1="504.3727" x2="673.15" y2="504.3727" stroke="#111" stroke-width="1.3" />
<rect x="650.0" y="507.8781" width="30.299999999999955" height="77.2219" fill="#00bb00" stroke="#111" stroke-width="1.3" />
<text x="665.15" y="500.8727" font-size="8.3" text-anchor="middle" fill="#222" font-weight="normal" font-family='"Liberation Sans", sans-serif' >c</text>
<line x1="545.8" y1="429.85" x2="545.8" y2="585.7" stroke="#111" stroke-width="1.3" />
<line x1="541.5999999999999" y1="585.1" x2="545.8" y2="585.1" stroke="#111" stroke-width="1.3" />
<text transform="translate(537.90,586.80) scale(1.0,1)" font-size="7.6" text-anchor="end" fill="#383838" font-family='"Liberation Sans", sans-serif' letter-spacing="0.0">0</text>
<line x1="541.5999999999999" y1="533.5500000000001" x2="545.8" y2="533.5500000000001" stroke="#111" stroke-width="1.3" />
<text transform="translate(537.90,535.25) scale(1.0,1)" font-size="7.6" text-anchor="end" fill="#383838" font-family='"Liberation Sans", sans-serif' letter-spacing="0.0">50</text>
<line x1="541.5999999999999" y1="482.0" x2="545.8" y2="482.0" stroke="#111" stroke-width="1.3" />
<text transform="translate(537.90,483.70) scale(1.0,1)" font-size="7.6" text-anchor="end" fill="#383838" font-family='"Liberation Sans", sans-serif' letter-spacing="0.0">100</text>
<line x1="541.5999999999999" y1="430.45000000000005" x2="545.8" y2="430.45000000000005" stroke="#111" stroke-width="1.3" />
<text transform="translate(537.90,432.15) scale(1.0,1)" font-size="7.6" text-anchor="end" fill="#383838" font-family='"Liberation Sans", sans-serif' letter-spacing="0.0">150</text>
<line x1="545.8" y1="585.1" x2="683" y2="585.1" stroke="#111" stroke-width="1.3" />
<line x1="565.4" y1="585.1" x2="565.4" y2="589.1" stroke="#111" stroke-width="1.3" />
<line x1="598.7" y1="585.1" x2="598.7" y2="589.1" stroke="#111" stroke-width="1.3" />
<line x1="632.1" y1="585.1" x2="632.1" y2="589.1" stroke="#111" stroke-width="1.3" />
<line x1="665.5" y1="585.1" x2="665.5" y2="589.1" stroke="#111" stroke-width="1.3" />
<text transform="translate(524,506) rotate(-90)" font-size="8.6" text-anchor="middle" fill="#1a1a1a" font-family='"Liberation Sans", sans-serif'>AUC</text>
<text transform="translate(566.4,593.0) rotate(-45)" font-size="8.6" text-anchor="end" fill="#1a1a1a" font-family='"Liberation Sans", sans-serif'>Vehicle + Sham</text>
<text transform="translate(599.7,593.0) rotate(-45)" font-size="8.6" text-anchor="end" fill="#1a1a1a" font-family='"Liberation Sans", sans-serif'>EDS + Sham</text>
<text transform="translate(633.1,593.0) rotate(-45)" font-size="8.6" text-anchor="end" fill="#1a1a1a" font-family='"Liberation Sans", sans-serif'>EDS + hAd-PSC (EM)</text>
<text transform="translate(666.5,593.0) rotate(-45)" font-size="8.6" text-anchor="end" fill="#1a1a1a" font-family='"Liberation Sans", sans-serif'>EDS + hAd-PSC (DIM)</text>
</svg>
</body></html>
